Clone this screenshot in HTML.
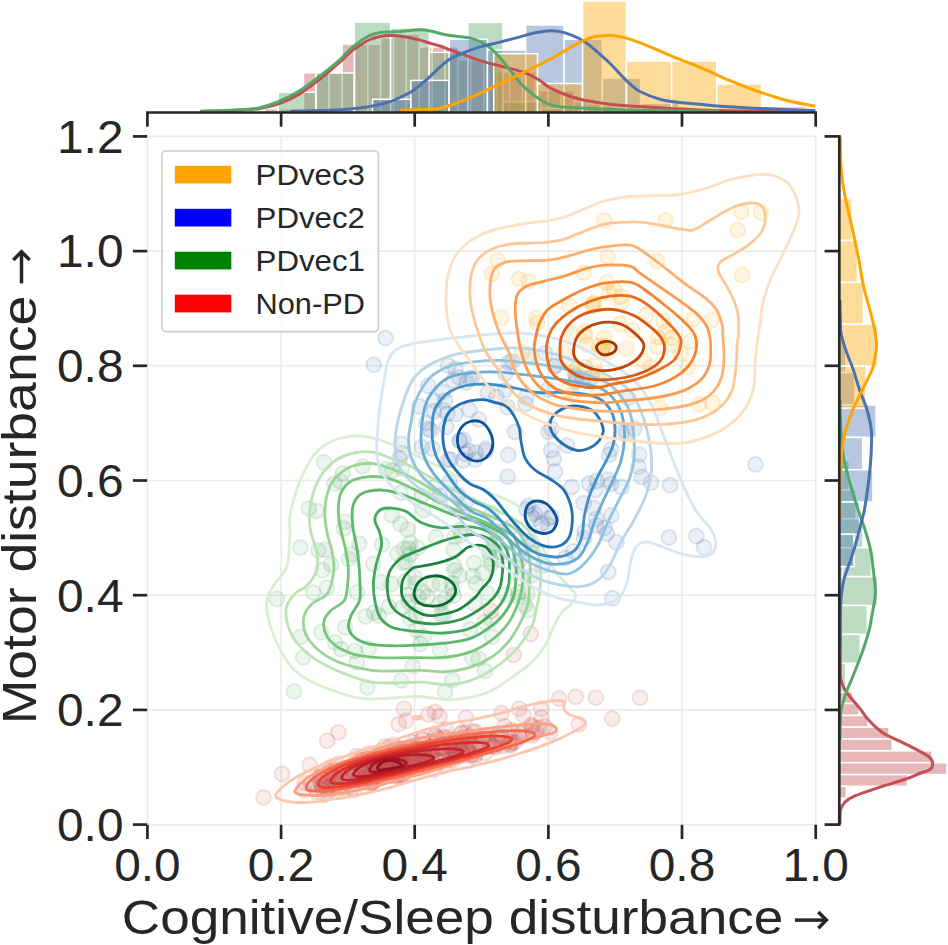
<!DOCTYPE html>
<html><head><meta charset="utf-8"><style>
html,body{margin:0;padding:0;background:#fff;width:948px;height:945px;overflow:hidden}
svg{display:block}
text{font-family:"Liberation Sans",sans-serif;fill:#262626}
.tl{font-size:46.5px}
.al{font-size:48px}
.lg{font-size:30.3px}
</style></head><body>
<svg width="948" height="945" viewBox="0 0 948 945">
<line x1="147.4" y1="136.4" x2="147.4" y2="824.6" stroke="#ebebeb" stroke-width="1.6"/>
<line x1="281.1" y1="136.4" x2="281.1" y2="824.6" stroke="#ebebeb" stroke-width="1.6"/>
<line x1="414.7" y1="136.4" x2="414.7" y2="824.6" stroke="#ebebeb" stroke-width="1.6"/>
<line x1="548.4" y1="136.4" x2="548.4" y2="824.6" stroke="#ebebeb" stroke-width="1.6"/>
<line x1="682.0" y1="136.4" x2="682.0" y2="824.6" stroke="#ebebeb" stroke-width="1.6"/>
<line x1="815.7" y1="136.4" x2="815.7" y2="824.6" stroke="#ebebeb" stroke-width="1.6"/>
<line x1="147.4" y1="824.6" x2="815.7" y2="824.6" stroke="#ebebeb" stroke-width="1.6"/>
<line x1="147.4" y1="709.9" x2="815.7" y2="709.9" stroke="#ebebeb" stroke-width="1.6"/>
<line x1="147.4" y1="595.2" x2="815.7" y2="595.2" stroke="#ebebeb" stroke-width="1.6"/>
<line x1="147.4" y1="480.5" x2="815.7" y2="480.5" stroke="#ebebeb" stroke-width="1.6"/>
<line x1="147.4" y1="365.8" x2="815.7" y2="365.8" stroke="#ebebeb" stroke-width="1.6"/>
<line x1="147.4" y1="251.1" x2="815.7" y2="251.1" stroke="#ebebeb" stroke-width="1.6"/>
<line x1="147.4" y1="136.4" x2="815.7" y2="136.4" stroke="#ebebeb" stroke-width="1.6"/>
<g>
<g fill="#c44e52" fill-opacity="0.11" stroke="#c44e52" stroke-opacity="0.16" stroke-width="2">
<circle cx="466.5" cy="749.6" r="7.5"/>
<circle cx="424.8" cy="756.0" r="7.5"/>
<circle cx="388.8" cy="771.4" r="7.5"/>
<circle cx="388.6" cy="767.7" r="7.5"/>
<circle cx="394.4" cy="758.6" r="7.5"/>
<circle cx="356.6" cy="756.3" r="7.5"/>
<circle cx="389.5" cy="764.9" r="7.5"/>
<circle cx="430.3" cy="747.1" r="7.5"/>
<circle cx="387.0" cy="767.0" r="7.5"/>
<circle cx="363.4" cy="782.1" r="7.5"/>
<circle cx="429.0" cy="750.1" r="7.5"/>
<circle cx="322.0" cy="785.3" r="7.5"/>
<circle cx="382.3" cy="767.8" r="7.5"/>
<circle cx="482.3" cy="738.7" r="7.5"/>
<circle cx="386.1" cy="760.7" r="7.5"/>
<circle cx="395.5" cy="776.2" r="7.5"/>
<circle cx="411.6" cy="766.9" r="7.5"/>
<circle cx="455.6" cy="754.3" r="7.5"/>
<circle cx="381.8" cy="769.5" r="7.5"/>
<circle cx="442.1" cy="749.0" r="7.5"/>
<circle cx="520.1" cy="737.4" r="7.5"/>
<circle cx="438.7" cy="745.5" r="7.5"/>
<circle cx="389.8" cy="756.4" r="7.5"/>
<circle cx="403.6" cy="760.8" r="7.5"/>
<circle cx="368.8" cy="753.3" r="7.5"/>
<circle cx="355.9" cy="773.4" r="7.5"/>
<circle cx="454.4" cy="746.0" r="7.5"/>
<circle cx="414.2" cy="742.6" r="7.5"/>
<circle cx="462.1" cy="738.1" r="7.5"/>
<circle cx="389.9" cy="764.3" r="7.5"/>
<circle cx="370.7" cy="775.9" r="7.5"/>
<circle cx="391.1" cy="765.4" r="7.5"/>
<circle cx="320.6" cy="783.3" r="7.5"/>
<circle cx="374.3" cy="768.7" r="7.5"/>
<circle cx="391.8" cy="775.5" r="7.5"/>
<circle cx="304.9" cy="782.9" r="7.5"/>
<circle cx="407.5" cy="762.8" r="7.5"/>
<circle cx="344.9" cy="783.1" r="7.5"/>
<circle cx="373.1" cy="762.9" r="7.5"/>
<circle cx="405.2" cy="752.3" r="7.5"/>
<circle cx="393.5" cy="760.3" r="7.5"/>
<circle cx="383.6" cy="767.1" r="7.5"/>
<circle cx="471.9" cy="754.8" r="7.5"/>
<circle cx="365.3" cy="778.1" r="7.5"/>
<circle cx="454.6" cy="750.3" r="7.5"/>
<circle cx="389.3" cy="756.2" r="7.5"/>
<circle cx="461.0" cy="750.5" r="7.5"/>
<circle cx="422.3" cy="757.6" r="7.5"/>
<circle cx="504.5" cy="726.2" r="7.5"/>
<circle cx="420.8" cy="764.4" r="7.5"/>
<circle cx="431.4" cy="753.2" r="7.5"/>
<circle cx="447.9" cy="737.7" r="7.5"/>
<circle cx="400.6" cy="765.7" r="7.5"/>
<circle cx="502.5" cy="745.7" r="7.5"/>
<circle cx="392.3" cy="755.9" r="7.5"/>
<circle cx="387.1" cy="760.9" r="7.5"/>
<circle cx="510.8" cy="742.8" r="7.5"/>
<circle cx="434.3" cy="749.3" r="7.5"/>
<circle cx="418.7" cy="761.8" r="7.5"/>
<circle cx="422.2" cy="760.9" r="7.5"/>
<circle cx="451.2" cy="751.5" r="7.5"/>
<circle cx="485.3" cy="752.9" r="7.5"/>
<circle cx="421.5" cy="753.4" r="7.5"/>
<circle cx="466.8" cy="750.9" r="7.5"/>
<circle cx="440.7" cy="761.6" r="7.5"/>
<circle cx="412.3" cy="749.6" r="7.5"/>
<circle cx="373.2" cy="762.7" r="7.5"/>
<circle cx="423.9" cy="751.9" r="7.5"/>
<circle cx="321.9" cy="774.2" r="7.5"/>
<circle cx="397.0" cy="747.8" r="7.5"/>
<circle cx="398.0" cy="774.6" r="7.5"/>
<circle cx="384.9" cy="746.6" r="7.5"/>
<circle cx="395.1" cy="769.1" r="7.5"/>
<circle cx="397.7" cy="764.5" r="7.5"/>
<circle cx="399.5" cy="749.0" r="7.5"/>
<circle cx="433.9" cy="769.7" r="7.5"/>
<circle cx="432.0" cy="750.8" r="7.5"/>
<circle cx="422.5" cy="739.0" r="7.5"/>
<circle cx="402.0" cy="765.2" r="7.5"/>
<circle cx="400.1" cy="763.5" r="7.5"/>
<circle cx="330.4" cy="766.9" r="7.5"/>
<circle cx="493.3" cy="745.8" r="7.5"/>
<circle cx="428.7" cy="751.3" r="7.5"/>
<circle cx="394.1" cy="766.1" r="7.5"/>
<circle cx="514.9" cy="737.2" r="7.5"/>
<circle cx="352.6" cy="777.5" r="7.5"/>
<circle cx="378.6" cy="760.5" r="7.5"/>
<circle cx="401.4" cy="765.4" r="7.5"/>
<circle cx="418.0" cy="754.3" r="7.5"/>
<circle cx="388.2" cy="747.7" r="7.5"/>
<circle cx="538.6" cy="727.8" r="7.5"/>
<circle cx="403.1" cy="749.2" r="7.5"/>
<circle cx="336.0" cy="777.1" r="7.5"/>
<circle cx="303.7" cy="790.0" r="7.5"/>
<circle cx="386.8" cy="760.3" r="7.5"/>
<circle cx="385.8" cy="758.8" r="7.5"/>
<circle cx="410.9" cy="752.9" r="7.5"/>
<circle cx="335.1" cy="786.1" r="7.5"/>
<circle cx="498.0" cy="735.5" r="7.5"/>
<circle cx="431.3" cy="758.8" r="7.5"/>
<circle cx="471.3" cy="745.4" r="7.5"/>
<circle cx="400.6" cy="750.8" r="7.5"/>
<circle cx="372.5" cy="770.3" r="7.5"/>
<circle cx="495.2" cy="747.5" r="7.5"/>
<circle cx="419.2" cy="762.5" r="7.5"/>
<circle cx="455.3" cy="756.8" r="7.5"/>
<circle cx="380.9" cy="762.0" r="7.5"/>
<circle cx="361.6" cy="757.8" r="7.5"/>
<circle cx="432.6" cy="752.7" r="7.5"/>
<circle cx="429.0" cy="752.8" r="7.5"/>
<circle cx="422.7" cy="739.5" r="7.5"/>
<circle cx="437.3" cy="760.6" r="7.5"/>
<circle cx="379.3" cy="777.4" r="7.5"/>
<circle cx="310.9" cy="784.5" r="7.5"/>
<circle cx="511.7" cy="730.0" r="7.5"/>
<circle cx="341.4" cy="781.6" r="7.5"/>
<circle cx="494.4" cy="741.1" r="7.5"/>
<circle cx="390.0" cy="768.6" r="7.5"/>
<circle cx="343.2" cy="778.8" r="7.5"/>
<circle cx="468.9" cy="745.5" r="7.5"/>
<circle cx="475.1" cy="754.6" r="7.5"/>
<circle cx="383.5" cy="759.1" r="7.5"/>
<circle cx="404.6" cy="757.2" r="7.5"/>
<circle cx="387.5" cy="762.1" r="7.5"/>
<circle cx="532.3" cy="726.7" r="7.5"/>
<circle cx="364.5" cy="761.1" r="7.5"/>
<circle cx="360.1" cy="777.8" r="7.5"/>
<circle cx="437.5" cy="738.8" r="7.5"/>
<circle cx="446.3" cy="760.1" r="7.5"/>
<circle cx="437.5" cy="761.1" r="7.5"/>
<circle cx="374.8" cy="770.6" r="7.5"/>
<circle cx="326.1" cy="787.5" r="7.5"/>
<circle cx="342.4" cy="768.5" r="7.5"/>
<circle cx="404.5" cy="753.1" r="7.5"/>
<circle cx="384.6" cy="766.2" r="7.5"/>
<circle cx="407.7" cy="756.3" r="7.5"/>
<circle cx="352.4" cy="771.5" r="7.5"/>
<circle cx="388.9" cy="767.9" r="7.5"/>
<circle cx="331.8" cy="789.1" r="7.5"/>
<circle cx="320.3" cy="776.6" r="7.5"/>
<circle cx="533.3" cy="732.6" r="7.5"/>
<circle cx="455.0" cy="752.2" r="7.5"/>
<circle cx="401.1" cy="775.9" r="7.5"/>
<circle cx="391.2" cy="764.6" r="7.5"/>
<circle cx="398.2" cy="757.2" r="7.5"/>
<circle cx="483.1" cy="735.5" r="7.5"/>
<circle cx="332.0" cy="770.3" r="7.5"/>
<circle cx="531.2" cy="725.1" r="7.5"/>
<circle cx="467.4" cy="739.8" r="7.5"/>
<circle cx="317.5" cy="793.2" r="7.5"/>
<circle cx="372.0" cy="770.7" r="7.5"/>
<circle cx="328.5" cy="776.5" r="7.5"/>
<circle cx="425.3" cy="760.2" r="7.5"/>
<circle cx="472.8" cy="744.7" r="7.5"/>
<circle cx="398.2" cy="763.7" r="7.5"/>
<circle cx="375.7" cy="760.5" r="7.5"/>
<circle cx="450.2" cy="745.3" r="7.5"/>
<circle cx="460.4" cy="745.2" r="7.5"/>
<circle cx="458.8" cy="751.7" r="7.5"/>
<circle cx="370.6" cy="783.0" r="7.5"/>
<circle cx="328.2" cy="790.7" r="7.5"/>
<circle cx="443.8" cy="766.3" r="7.5"/>
<circle cx="373.5" cy="768.9" r="7.5"/>
<circle cx="379.1" cy="769.8" r="7.5"/>
<circle cx="387.8" cy="762.9" r="7.5"/>
<circle cx="510.0" cy="744.6" r="7.5"/>
<circle cx="360.4" cy="777.2" r="7.5"/>
<circle cx="369.2" cy="777.0" r="7.5"/>
<circle cx="350.6" cy="768.9" r="7.5"/>
<circle cx="327.1" cy="782.1" r="7.5"/>
<circle cx="346.1" cy="788.1" r="7.5"/>
<circle cx="379.7" cy="763.2" r="7.5"/>
<circle cx="416.6" cy="769.1" r="7.5"/>
<circle cx="401.8" cy="764.2" r="7.5"/>
<circle cx="462.4" cy="740.7" r="7.5"/>
<circle cx="422.9" cy="754.7" r="7.5"/>
<circle cx="443.7" cy="737.1" r="7.5"/>
<circle cx="398.2" cy="776.5" r="7.5"/>
<circle cx="475.0" cy="731.5" r="7.5"/>
<circle cx="401.3" cy="764.0" r="7.5"/>
<circle cx="510.6" cy="745.2" r="7.5"/>
<circle cx="495.9" cy="742.9" r="7.5"/>
<circle cx="460.3" cy="744.5" r="7.5"/>
<circle cx="358.8" cy="776.2" r="7.5"/>
<circle cx="371.0" cy="763.9" r="7.5"/>
<circle cx="391.8" cy="757.2" r="7.5"/>
<circle cx="323.9" cy="795.3" r="7.5"/>
<circle cx="406.2" cy="763.3" r="7.5"/>
<circle cx="389.2" cy="755.3" r="7.5"/>
<circle cx="474.5" cy="757.5" r="7.5"/>
<circle cx="407.1" cy="767.9" r="7.5"/>
<circle cx="488.3" cy="741.1" r="7.5"/>
<circle cx="421.7" cy="768.3" r="7.5"/>
<circle cx="381.5" cy="777.9" r="7.5"/>
<circle cx="421.5" cy="761.3" r="7.5"/>
<circle cx="384.4" cy="761.9" r="7.5"/>
<circle cx="478.2" cy="742.7" r="7.5"/>
<circle cx="366.1" cy="760.9" r="7.5"/>
<circle cx="341.5" cy="771.0" r="7.5"/>
<circle cx="444.5" cy="759.3" r="7.5"/>
<circle cx="403.5" cy="764.5" r="7.5"/>
<circle cx="518.7" cy="732.4" r="7.5"/>
<circle cx="440.9" cy="748.1" r="7.5"/>
<circle cx="494.8" cy="746.2" r="7.5"/>
<circle cx="354.5" cy="790.0" r="7.5"/>
<circle cx="522.1" cy="732.6" r="7.5"/>
<circle cx="424.8" cy="749.7" r="7.5"/>
<circle cx="536.2" cy="731.9" r="7.5"/>
<circle cx="355.4" cy="767.8" r="7.5"/>
<circle cx="375.6" cy="767.2" r="7.5"/>
<circle cx="402.1" cy="757.8" r="7.5"/>
<circle cx="473.2" cy="732.3" r="7.5"/>
<circle cx="383.9" cy="760.3" r="7.5"/>
<circle cx="480.4" cy="745.2" r="7.5"/>
<circle cx="377.5" cy="760.3" r="7.5"/>
<circle cx="362.8" cy="758.9" r="7.5"/>
<circle cx="444.9" cy="749.0" r="7.5"/>
<circle cx="336.9" cy="774.0" r="7.5"/>
<circle cx="399.9" cy="767.2" r="7.5"/>
<circle cx="411.4" cy="761.3" r="7.5"/>
<circle cx="411.9" cy="759.1" r="7.5"/>
<circle cx="432.7" cy="741.5" r="7.5"/>
<circle cx="392.4" cy="765.2" r="7.5"/>
<circle cx="379.5" cy="763.1" r="7.5"/>
<circle cx="373.7" cy="778.3" r="7.5"/>
<circle cx="351.6" cy="787.9" r="7.5"/>
<circle cx="333.7" cy="772.8" r="7.5"/>
<circle cx="320.3" cy="777.2" r="7.5"/>
<circle cx="372.5" cy="763.4" r="7.5"/>
<circle cx="368.6" cy="759.4" r="7.5"/>
<circle cx="428.8" cy="761.0" r="7.5"/>
<circle cx="397.8" cy="762.8" r="7.5"/>
<circle cx="358.1" cy="773.9" r="7.5"/>
<circle cx="514.3" cy="742.6" r="7.5"/>
<circle cx="391.5" cy="764.0" r="7.5"/>
<circle cx="377.5" cy="779.0" r="7.5"/>
<circle cx="451.3" cy="748.7" r="7.5"/>
<circle cx="448.6" cy="753.9" r="7.5"/>
<circle cx="339.8" cy="775.3" r="7.5"/>
<circle cx="372.7" cy="766.2" r="7.5"/>
<circle cx="330.1" cy="786.5" r="7.5"/>
<circle cx="361.5" cy="766.5" r="7.5"/>
<circle cx="322.5" cy="785.1" r="7.5"/>
<circle cx="379.5" cy="774.0" r="7.5"/>
<circle cx="389.9" cy="767.1" r="7.5"/>
<circle cx="443.3" cy="746.7" r="7.5"/>
<circle cx="418.3" cy="749.3" r="7.5"/>
<circle cx="404.3" cy="775.8" r="7.5"/>
<circle cx="364.3" cy="757.3" r="7.5"/>
<circle cx="394.1" cy="767.4" r="7.5"/>
<circle cx="382.4" cy="761.3" r="7.5"/>
<circle cx="399.7" cy="760.1" r="7.5"/>
<circle cx="544.7" cy="726.3" r="7.5"/>
<circle cx="368.5" cy="772.7" r="7.5"/>
<circle cx="413.9" cy="754.7" r="7.5"/>
<circle cx="379.4" cy="756.5" r="7.5"/>
<circle cx="468.5" cy="736.8" r="7.5"/>
<circle cx="411.2" cy="765.2" r="7.5"/>
<circle cx="370.8" cy="770.4" r="7.5"/>
<circle cx="383.7" cy="763.1" r="7.5"/>
<circle cx="427.2" cy="761.5" r="7.5"/>
<circle cx="362.4" cy="771.9" r="7.5"/>
<circle cx="487.6" cy="739.6" r="7.5"/>
<circle cx="403.5" cy="762.4" r="7.5"/>
<circle cx="391.3" cy="768.5" r="7.5"/>
<circle cx="453.1" cy="757.8" r="7.5"/>
<circle cx="355.1" cy="776.1" r="7.5"/>
<circle cx="397.5" cy="761.9" r="7.5"/>
<circle cx="469.6" cy="741.3" r="7.5"/>
<circle cx="326.2" cy="788.6" r="7.5"/>
<circle cx="396.1" cy="760.8" r="7.5"/>
<circle cx="401.3" cy="769.6" r="7.5"/>
<circle cx="500.8" cy="736.7" r="7.5"/>
<circle cx="330.4" cy="772.1" r="7.5"/>
<circle cx="393.4" cy="744.9" r="7.5"/>
<circle cx="511.2" cy="741.4" r="7.5"/>
<circle cx="412.8" cy="753.7" r="7.5"/>
<circle cx="373.0" cy="761.1" r="7.5"/>
<circle cx="453.6" cy="760.6" r="7.5"/>
<circle cx="379.5" cy="760.5" r="7.5"/>
<circle cx="461.5" cy="733.2" r="7.5"/>
<circle cx="389.9" cy="764.9" r="7.5"/>
<circle cx="385.5" cy="768.1" r="7.5"/>
<circle cx="339.4" cy="789.1" r="7.5"/>
<circle cx="424.5" cy="763.6" r="7.5"/>
<circle cx="320.4" cy="783.0" r="7.5"/>
<circle cx="335.3" cy="784.2" r="7.5"/>
<circle cx="415.1" cy="748.2" r="7.5"/>
<circle cx="435.8" cy="736.4" r="7.5"/>
<circle cx="475.1" cy="745.9" r="7.5"/>
<circle cx="386.9" cy="768.0" r="7.5"/>
<circle cx="468.8" cy="751.2" r="7.5"/>
<circle cx="451.1" cy="741.9" r="7.5"/>
<circle cx="372.2" cy="782.2" r="7.5"/>
<circle cx="394.8" cy="766.9" r="7.5"/>
<circle cx="369.6" cy="784.3" r="7.5"/>
<circle cx="464.0" cy="755.4" r="7.5"/>
<circle cx="450.9" cy="746.1" r="7.5"/>
<circle cx="453.9" cy="742.1" r="7.5"/>
<circle cx="373.0" cy="782.7" r="7.5"/>
<circle cx="455.9" cy="744.8" r="7.5"/>
<circle cx="404.4" cy="771.7" r="7.5"/>
<circle cx="411.0" cy="748.3" r="7.5"/>
<circle cx="402.3" cy="775.2" r="7.5"/>
<circle cx="488.1" cy="734.7" r="7.5"/>
<circle cx="389.4" cy="759.4" r="7.5"/>
<circle cx="415.3" cy="758.3" r="7.5"/>
<circle cx="322.0" cy="789.3" r="7.5"/>
<circle cx="346.8" cy="779.1" r="7.5"/>
<circle cx="390.3" cy="758.3" r="7.5"/>
<circle cx="372.3" cy="761.4" r="7.5"/>
<circle cx="364.4" cy="768.4" r="7.5"/>
<circle cx="357.6" cy="766.7" r="7.5"/>
<circle cx="335.6" cy="779.0" r="7.5"/>
<circle cx="397.2" cy="766.7" r="7.5"/>
<circle cx="386.9" cy="762.8" r="7.5"/>
<circle cx="357.1" cy="779.8" r="7.5"/>
<circle cx="471.2" cy="755.2" r="7.5"/>
<circle cx="457.3" cy="756.0" r="7.5"/>
<circle cx="414.5" cy="756.8" r="7.5"/>
<circle cx="356.0" cy="763.5" r="7.5"/>
<circle cx="461.8" cy="733.1" r="7.5"/>
<circle cx="395.7" cy="760.9" r="7.5"/>
<circle cx="425.8" cy="756.0" r="7.5"/>
<circle cx="413.3" cy="751.0" r="7.5"/>
<circle cx="263.5" cy="797.4" r="7.5"/>
<circle cx="282.1" cy="773.9" r="7.5"/>
<circle cx="309.6" cy="765.1" r="7.5"/>
<circle cx="327.3" cy="740.7" r="7.5"/>
<circle cx="338.4" cy="732.3" r="7.5"/>
<circle cx="403.9" cy="708.8" r="7.5"/>
<circle cx="398.6" cy="724.3" r="7.5"/>
<circle cx="406.1" cy="720.8" r="7.5"/>
<circle cx="428.3" cy="714.6" r="7.5"/>
<circle cx="435.0" cy="711.9" r="7.5"/>
<circle cx="439.4" cy="716.3" r="7.5"/>
<circle cx="466.0" cy="717.7" r="7.5"/>
<circle cx="435.0" cy="735.4" r="7.5"/>
<circle cx="446.0" cy="729.6" r="7.5"/>
<circle cx="466.0" cy="733.2" r="7.5"/>
<circle cx="501.4" cy="713.2" r="7.5"/>
<circle cx="519.1" cy="708.8" r="7.5"/>
<circle cx="523.6" cy="715.4" r="7.5"/>
<circle cx="541.3" cy="708.8" r="7.5"/>
<circle cx="541.3" cy="717.7" r="7.5"/>
<circle cx="559.0" cy="698.6" r="7.5"/>
<circle cx="575.8" cy="696.8" r="7.5"/>
<circle cx="595.8" cy="697.7" r="7.5"/>
<circle cx="640.1" cy="697.7" r="7.5"/>
<circle cx="612.2" cy="718.5" r="7.5"/>
<circle cx="578.9" cy="724.3" r="7.5"/>
<circle cx="550.1" cy="732.3" r="7.5"/>
<circle cx="532.4" cy="735.4" r="7.5"/>
<circle cx="497.0" cy="737.6" r="7.5"/>
<circle cx="381.8" cy="750.9" r="7.5"/>
<circle cx="399.5" cy="750.9" r="7.5"/>
<circle cx="337.5" cy="764.2" r="7.5"/>
<circle cx="530.7" cy="633.9" r="7.5"/>
<circle cx="513.8" cy="655.0" r="7.5"/>
<circle cx="491.0" cy="611.1" r="7.5"/>
</g>
<g fill="#55a868" fill-opacity="0.11" stroke="#55a868" stroke-opacity="0.16" stroke-width="2">
<circle cx="524.9" cy="604.9" r="7.5"/>
<circle cx="478.6" cy="658.8" r="7.5"/>
<circle cx="520.8" cy="578.2" r="7.5"/>
<circle cx="439.8" cy="603.6" r="7.5"/>
<circle cx="435.2" cy="486.5" r="7.5"/>
<circle cx="313.1" cy="592.7" r="7.5"/>
<circle cx="410.4" cy="554.6" r="7.5"/>
<circle cx="441.2" cy="614.6" r="7.5"/>
<circle cx="397.3" cy="553.7" r="7.5"/>
<circle cx="527.5" cy="593.8" r="7.5"/>
<circle cx="475.8" cy="583.5" r="7.5"/>
<circle cx="401.0" cy="680.4" r="7.5"/>
<circle cx="492.1" cy="636.8" r="7.5"/>
<circle cx="440.2" cy="502.2" r="7.5"/>
<circle cx="368.6" cy="648.7" r="7.5"/>
<circle cx="444.0" cy="614.3" r="7.5"/>
<circle cx="423.2" cy="510.1" r="7.5"/>
<circle cx="527.7" cy="610.2" r="7.5"/>
<circle cx="354.8" cy="651.0" r="7.5"/>
<circle cx="533.6" cy="553.0" r="7.5"/>
<circle cx="452.6" cy="589.6" r="7.5"/>
<circle cx="400.4" cy="523.9" r="7.5"/>
<circle cx="491.3" cy="564.0" r="7.5"/>
<circle cx="439.9" cy="583.7" r="7.5"/>
<circle cx="530.4" cy="576.0" r="7.5"/>
<circle cx="500.8" cy="532.0" r="7.5"/>
<circle cx="485.0" cy="670.8" r="7.5"/>
<circle cx="342.7" cy="473.5" r="7.5"/>
<circle cx="407.5" cy="529.6" r="7.5"/>
<circle cx="501.5" cy="552.3" r="7.5"/>
<circle cx="382.1" cy="544.6" r="7.5"/>
<circle cx="400.7" cy="492.8" r="7.5"/>
<circle cx="455.1" cy="570.5" r="7.5"/>
<circle cx="410.0" cy="542.8" r="7.5"/>
<circle cx="490.4" cy="558.8" r="7.5"/>
<circle cx="316.9" cy="511.1" r="7.5"/>
<circle cx="300.4" cy="636.9" r="7.5"/>
<circle cx="409.9" cy="618.3" r="7.5"/>
<circle cx="401.6" cy="468.5" r="7.5"/>
<circle cx="340.7" cy="481.8" r="7.5"/>
<circle cx="408.9" cy="601.9" r="7.5"/>
<circle cx="404.0" cy="549.1" r="7.5"/>
<circle cx="474.1" cy="563.0" r="7.5"/>
<circle cx="381.5" cy="582.3" r="7.5"/>
<circle cx="472.4" cy="657.7" r="7.5"/>
<circle cx="491.5" cy="513.1" r="7.5"/>
<circle cx="331.2" cy="564.4" r="7.5"/>
<circle cx="379.0" cy="615.8" r="7.5"/>
<circle cx="422.9" cy="592.1" r="7.5"/>
<circle cx="453.9" cy="565.6" r="7.5"/>
<circle cx="432.1" cy="584.8" r="7.5"/>
<circle cx="334.3" cy="483.8" r="7.5"/>
<circle cx="373.3" cy="563.9" r="7.5"/>
<circle cx="474.9" cy="604.0" r="7.5"/>
<circle cx="392.2" cy="470.5" r="7.5"/>
<circle cx="415.6" cy="583.2" r="7.5"/>
<circle cx="343.8" cy="528.7" r="7.5"/>
<circle cx="496.0" cy="530.9" r="7.5"/>
<circle cx="352.3" cy="554.3" r="7.5"/>
<circle cx="490.4" cy="536.4" r="7.5"/>
<circle cx="462.8" cy="511.1" r="7.5"/>
<circle cx="453.7" cy="550.1" r="7.5"/>
<circle cx="416.1" cy="614.7" r="7.5"/>
<circle cx="356.8" cy="592.2" r="7.5"/>
<circle cx="365.5" cy="616.5" r="7.5"/>
<circle cx="470.0" cy="629.3" r="7.5"/>
<circle cx="402.1" cy="607.8" r="7.5"/>
<circle cx="460.9" cy="535.6" r="7.5"/>
<circle cx="515.4" cy="566.6" r="7.5"/>
<circle cx="489.0" cy="552.1" r="7.5"/>
<circle cx="374.1" cy="612.7" r="7.5"/>
<circle cx="453.8" cy="595.5" r="7.5"/>
<circle cx="427.5" cy="596.8" r="7.5"/>
<circle cx="423.9" cy="637.1" r="7.5"/>
<circle cx="359.2" cy="543.8" r="7.5"/>
<circle cx="408.5" cy="548.4" r="7.5"/>
<circle cx="445.1" cy="599.1" r="7.5"/>
<circle cx="321.3" cy="632.2" r="7.5"/>
<circle cx="362.6" cy="466.5" r="7.5"/>
<circle cx="341.0" cy="649.2" r="7.5"/>
<circle cx="324.9" cy="549.8" r="7.5"/>
<circle cx="348.8" cy="559.1" r="7.5"/>
<circle cx="518.2" cy="597.0" r="7.5"/>
<circle cx="439.9" cy="649.8" r="7.5"/>
<circle cx="422.0" cy="496.0" r="7.5"/>
<circle cx="405.1" cy="581.6" r="7.5"/>
<circle cx="484.5" cy="622.1" r="7.5"/>
<circle cx="451.8" cy="583.0" r="7.5"/>
<circle cx="518.5" cy="592.5" r="7.5"/>
<circle cx="388.8" cy="606.4" r="7.5"/>
<circle cx="418.5" cy="597.2" r="7.5"/>
<circle cx="385.8" cy="469.3" r="7.5"/>
<circle cx="335.1" cy="642.3" r="7.5"/>
<circle cx="494.0" cy="543.7" r="7.5"/>
<circle cx="459.7" cy="575.7" r="7.5"/>
<circle cx="416.3" cy="630.1" r="7.5"/>
<circle cx="403.0" cy="562.9" r="7.5"/>
<circle cx="415.0" cy="577.4" r="7.5"/>
<circle cx="407.7" cy="595.0" r="7.5"/>
<circle cx="405.6" cy="562.0" r="7.5"/>
<circle cx="318.4" cy="550.5" r="7.5"/>
<circle cx="326.8" cy="587.7" r="7.5"/>
<circle cx="460.3" cy="529.7" r="7.5"/>
<circle cx="322.3" cy="570.3" r="7.5"/>
<circle cx="454.7" cy="537.0" r="7.5"/>
<circle cx="391.7" cy="515.2" r="7.5"/>
<circle cx="412.6" cy="666.3" r="7.5"/>
<circle cx="345.1" cy="627.5" r="7.5"/>
<circle cx="356.9" cy="662.5" r="7.5"/>
<circle cx="482.6" cy="572.9" r="7.5"/>
<circle cx="417.7" cy="547.8" r="7.5"/>
<circle cx="420.2" cy="644.1" r="7.5"/>
<circle cx="496.6" cy="544.0" r="7.5"/>
<circle cx="473.0" cy="575.9" r="7.5"/>
<circle cx="505.5" cy="594.6" r="7.5"/>
<circle cx="436.0" cy="537.3" r="7.5"/>
<circle cx="391.5" cy="583.7" r="7.5"/>
<circle cx="491.7" cy="619.5" r="7.5"/>
<circle cx="487.1" cy="592.8" r="7.5"/>
<circle cx="498.7" cy="559.6" r="7.5"/>
<circle cx="345.2" cy="521.8" r="7.5"/>
<circle cx="294.0" cy="691.5" r="7.5"/>
<circle cx="367.3" cy="687.5" r="7.5"/>
<circle cx="324.1" cy="462.2" r="7.5"/>
<circle cx="308.9" cy="508.4" r="7.5"/>
<circle cx="300.5" cy="547.6" r="7.5"/>
<circle cx="276.9" cy="598.9" r="7.5"/>
<circle cx="303.2" cy="657.3" r="7.5"/>
<circle cx="452.4" cy="679.9" r="7.5"/>
<circle cx="445.0" cy="691.7" r="7.5"/>
</g>
<g fill="#4c72b0" fill-opacity="0.11" stroke="#4c72b0" stroke-opacity="0.16" stroke-width="2">
<circle cx="526.2" cy="509.3" r="7.5"/>
<circle cx="433.9" cy="411.5" r="7.5"/>
<circle cx="428.1" cy="385.8" r="7.5"/>
<circle cx="528.7" cy="354.9" r="7.5"/>
<circle cx="575.4" cy="375.2" r="7.5"/>
<circle cx="621.7" cy="432.4" r="7.5"/>
<circle cx="616.5" cy="542.3" r="7.5"/>
<circle cx="428.5" cy="429.0" r="7.5"/>
<circle cx="448.2" cy="365.8" r="7.5"/>
<circle cx="541.6" cy="523.5" r="7.5"/>
<circle cx="421.9" cy="447.1" r="7.5"/>
<circle cx="399.4" cy="458.6" r="7.5"/>
<circle cx="449.8" cy="481.7" r="7.5"/>
<circle cx="453.3" cy="380.4" r="7.5"/>
<circle cx="639.2" cy="454.7" r="7.5"/>
<circle cx="426.4" cy="423.0" r="7.5"/>
<circle cx="447.3" cy="413.8" r="7.5"/>
<circle cx="508.8" cy="362.4" r="7.5"/>
<circle cx="468.6" cy="451.1" r="7.5"/>
<circle cx="455.3" cy="368.7" r="7.5"/>
<circle cx="591.7" cy="376.8" r="7.5"/>
<circle cx="555.1" cy="471.6" r="7.5"/>
<circle cx="641.8" cy="476.9" r="7.5"/>
<circle cx="596.1" cy="525.5" r="7.5"/>
<circle cx="528.3" cy="541.2" r="7.5"/>
<circle cx="401.8" cy="453.2" r="7.5"/>
<circle cx="533.7" cy="518.8" r="7.5"/>
<circle cx="526.2" cy="396.9" r="7.5"/>
<circle cx="553.7" cy="458.5" r="7.5"/>
<circle cx="531.9" cy="544.3" r="7.5"/>
<circle cx="505.4" cy="373.6" r="7.5"/>
<circle cx="534.5" cy="513.5" r="7.5"/>
<circle cx="487.8" cy="392.7" r="7.5"/>
<circle cx="554.5" cy="366.6" r="7.5"/>
<circle cx="475.0" cy="459.8" r="7.5"/>
<circle cx="604.7" cy="527.9" r="7.5"/>
<circle cx="551.6" cy="429.1" r="7.5"/>
<circle cx="469.4" cy="409.9" r="7.5"/>
<circle cx="446.3" cy="427.0" r="7.5"/>
<circle cx="442.6" cy="409.9" r="7.5"/>
<circle cx="609.0" cy="454.7" r="7.5"/>
<circle cx="576.2" cy="381.8" r="7.5"/>
<circle cx="496.3" cy="397.0" r="7.5"/>
<circle cx="539.6" cy="511.3" r="7.5"/>
<circle cx="507.7" cy="407.2" r="7.5"/>
<circle cx="621.5" cy="487.2" r="7.5"/>
<circle cx="566.9" cy="445.6" r="7.5"/>
<circle cx="466.6" cy="382.4" r="7.5"/>
<circle cx="626.2" cy="432.2" r="7.5"/>
<circle cx="419.4" cy="406.5" r="7.5"/>
<circle cx="593.8" cy="508.3" r="7.5"/>
<circle cx="607.0" cy="533.6" r="7.5"/>
<circle cx="595.4" cy="490.0" r="7.5"/>
<circle cx="465.5" cy="453.9" r="7.5"/>
<circle cx="542.5" cy="565.7" r="7.5"/>
<circle cx="445.1" cy="400.5" r="7.5"/>
<circle cx="472.0" cy="377.8" r="7.5"/>
<circle cx="525.6" cy="404.0" r="7.5"/>
<circle cx="485.3" cy="450.9" r="7.5"/>
<circle cx="528.5" cy="505.7" r="7.5"/>
<circle cx="576.3" cy="378.2" r="7.5"/>
<circle cx="573.2" cy="551.3" r="7.5"/>
<circle cx="475.6" cy="452.6" r="7.5"/>
<circle cx="611.3" cy="515.5" r="7.5"/>
<circle cx="439.9" cy="496.0" r="7.5"/>
<circle cx="469.5" cy="378.6" r="7.5"/>
<circle cx="548.9" cy="518.5" r="7.5"/>
<circle cx="430.8" cy="430.3" r="7.5"/>
<circle cx="463.4" cy="460.3" r="7.5"/>
<circle cx="507.6" cy="476.8" r="7.5"/>
<circle cx="514.9" cy="431.9" r="7.5"/>
<circle cx="455.4" cy="414.1" r="7.5"/>
<circle cx="459.7" cy="441.2" r="7.5"/>
<circle cx="465.6" cy="503.0" r="7.5"/>
<circle cx="589.1" cy="483.5" r="7.5"/>
<circle cx="551.2" cy="450.3" r="7.5"/>
<circle cx="551.6" cy="516.7" r="7.5"/>
<circle cx="434.4" cy="401.1" r="7.5"/>
<circle cx="584.6" cy="531.6" r="7.5"/>
<circle cx="463.6" cy="439.9" r="7.5"/>
<circle cx="512.2" cy="361.4" r="7.5"/>
<circle cx="450.6" cy="459.8" r="7.5"/>
<circle cx="486.1" cy="448.7" r="7.5"/>
<circle cx="478.8" cy="419.4" r="7.5"/>
<circle cx="448.3" cy="459.5" r="7.5"/>
<circle cx="458.2" cy="495.1" r="7.5"/>
<circle cx="521.7" cy="549.2" r="7.5"/>
<circle cx="555.3" cy="365.5" r="7.5"/>
<circle cx="638.6" cy="466.8" r="7.5"/>
<circle cx="519.2" cy="560.7" r="7.5"/>
<circle cx="548.6" cy="432.0" r="7.5"/>
<circle cx="584.0" cy="538.6" r="7.5"/>
<circle cx="634.3" cy="428.8" r="7.5"/>
<circle cx="583.8" cy="503.3" r="7.5"/>
<circle cx="459.9" cy="440.2" r="7.5"/>
<circle cx="608.0" cy="479.7" r="7.5"/>
<circle cx="571.8" cy="486.9" r="7.5"/>
<circle cx="548.2" cy="389.4" r="7.5"/>
<circle cx="628.2" cy="398.0" r="7.5"/>
<circle cx="508.3" cy="455.0" r="7.5"/>
<circle cx="442.9" cy="392.3" r="7.5"/>
<circle cx="596.3" cy="518.9" r="7.5"/>
<circle cx="596.7" cy="481.1" r="7.5"/>
<circle cx="459.1" cy="377.5" r="7.5"/>
<circle cx="511.2" cy="526.9" r="7.5"/>
<circle cx="531.1" cy="515.4" r="7.5"/>
<circle cx="548.5" cy="525.5" r="7.5"/>
<circle cx="545.4" cy="353.3" r="7.5"/>
<circle cx="582.5" cy="378.6" r="7.5"/>
<circle cx="505.3" cy="390.1" r="7.5"/>
<circle cx="755.4" cy="464.5" r="7.5"/>
<circle cx="651.0" cy="482.6" r="7.5"/>
<circle cx="670.2" cy="485.3" r="7.5"/>
<circle cx="668.9" cy="537.6" r="7.5"/>
<circle cx="696.4" cy="536.3" r="7.5"/>
<circle cx="704.1" cy="547.3" r="7.5"/>
<circle cx="608.3" cy="572.0" r="7.5"/>
<circle cx="612.4" cy="598.2" r="7.5"/>
<circle cx="611.0" cy="449.5" r="7.5"/>
<circle cx="611.0" cy="483.9" r="7.5"/>
<circle cx="565.2" cy="558.1" r="7.5"/>
<circle cx="385.5" cy="338.1" r="7.5"/>
<circle cx="373.7" cy="364.8" r="7.5"/>
<circle cx="401.1" cy="444.0" r="7.5"/>
<circle cx="432.2" cy="448.4" r="7.5"/>
</g>
<g fill="#ffa500" fill-opacity="0.11" stroke="#ffa500" stroke-opacity="0.16" stroke-width="2">
<circle cx="632.3" cy="330.2" r="7.5"/>
<circle cx="604.3" cy="337.8" r="7.5"/>
<circle cx="569.4" cy="305.6" r="7.5"/>
<circle cx="601.5" cy="350.7" r="7.5"/>
<circle cx="572.8" cy="394.7" r="7.5"/>
<circle cx="597.0" cy="380.2" r="7.5"/>
<circle cx="609.0" cy="292.9" r="7.5"/>
<circle cx="603.1" cy="347.8" r="7.5"/>
<circle cx="569.9" cy="332.8" r="7.5"/>
<circle cx="598.2" cy="393.9" r="7.5"/>
<circle cx="608.3" cy="351.8" r="7.5"/>
<circle cx="594.2" cy="364.9" r="7.5"/>
<circle cx="606.6" cy="282.5" r="7.5"/>
<circle cx="657.0" cy="347.0" r="7.5"/>
<circle cx="693.6" cy="319.1" r="7.5"/>
<circle cx="657.9" cy="337.3" r="7.5"/>
<circle cx="599.1" cy="345.7" r="7.5"/>
<circle cx="563.9" cy="352.4" r="7.5"/>
<circle cx="671.9" cy="337.8" r="7.5"/>
<circle cx="651.2" cy="367.1" r="7.5"/>
<circle cx="584.9" cy="335.5" r="7.5"/>
<circle cx="663.2" cy="321.1" r="7.5"/>
<circle cx="603.8" cy="345.8" r="7.5"/>
<circle cx="598.0" cy="374.8" r="7.5"/>
<circle cx="567.4" cy="390.2" r="7.5"/>
<circle cx="594.0" cy="303.0" r="7.5"/>
<circle cx="497.5" cy="260.3" r="7.5"/>
<circle cx="491.8" cy="274.0" r="7.5"/>
<circle cx="519.0" cy="279.0" r="7.5"/>
<circle cx="528.8" cy="281.2" r="7.5"/>
<circle cx="501.0" cy="317.7" r="7.5"/>
<circle cx="536.2" cy="317.7" r="7.5"/>
<circle cx="537.2" cy="323.0" r="7.5"/>
<circle cx="604.4" cy="220.7" r="7.5"/>
<circle cx="665.5" cy="220.5" r="7.5"/>
<circle cx="741.5" cy="211.8" r="7.5"/>
<circle cx="760.8" cy="212.5" r="7.5"/>
<circle cx="737.7" cy="230.0" r="7.5"/>
<circle cx="607.5" cy="256.6" r="7.5"/>
<circle cx="583.5" cy="272.8" r="7.5"/>
<circle cx="614.2" cy="289.6" r="7.5"/>
<circle cx="621.2" cy="296.8" r="7.5"/>
<circle cx="592.4" cy="304.0" r="7.5"/>
<circle cx="584.6" cy="331.7" r="7.5"/>
<circle cx="620.0" cy="324.0" r="7.5"/>
<circle cx="587.2" cy="345.0" r="7.5"/>
<circle cx="626.4" cy="348.8" r="7.5"/>
<circle cx="522.5" cy="352.5" r="7.5"/>
<circle cx="657.0" cy="261.0" r="7.5"/>
<circle cx="742.0" cy="275.0" r="7.5"/>
<circle cx="711.5" cy="320.5" r="7.5"/>
<circle cx="646.1" cy="315.3" r="7.5"/>
<circle cx="666.0" cy="331.5" r="7.5"/>
<circle cx="643.5" cy="361.0" r="7.5"/>
<circle cx="672.2" cy="345.0" r="7.5"/>
<circle cx="680.8" cy="353.2" r="7.5"/>
<circle cx="690.5" cy="341.5" r="7.5"/>
<circle cx="687.5" cy="367.6" r="7.5"/>
<circle cx="660.0" cy="408.0" r="7.5"/>
<circle cx="699.0" cy="404.2" r="7.5"/>
<circle cx="712.5" cy="403.0" r="7.5"/>
<circle cx="593.3" cy="306.3" r="7.5"/>
<circle cx="621.8" cy="302.4" r="7.5"/>
<circle cx="576.0" cy="369.5" r="7.5"/>
<circle cx="585.4" cy="367.2" r="7.5"/>
<circle cx="572.0" cy="367.2" r="7.5"/>
</g>
</g>
<g fill="none" stroke-width="2.8" stroke-linejoin="round">
<path d="M275.7 796.0 C275.1 794.4 277.4 792.4 279.0 790.5 C280.6 788.6 282.3 786.9 285.0 784.8 C287.7 782.7 291.8 779.9 295.0 777.9 C298.2 775.9 301.3 774.4 304.5 772.8 C307.7 771.2 310.6 769.9 314.0 768.3 C317.4 766.7 320.0 765.3 325.0 763.4 C330.0 761.5 337.7 758.8 344.0 756.6 C350.3 754.4 357.0 752.2 363.0 750.3 C369.0 748.4 373.7 747.2 380.0 745.1 C386.3 743.0 395.2 739.7 401.0 737.7 C406.8 735.7 409.5 734.7 414.8 733.0 C420.1 731.3 426.2 729.4 432.7 727.7 C439.2 726.0 447.6 723.9 453.8 722.6 C460.0 721.3 462.7 721.4 470.0 720.0 C477.3 718.6 488.2 716.5 497.4 714.2 C506.5 711.9 516.9 708.0 524.9 706.0 C532.9 704.0 539.7 702.8 545.4 701.9 C551.1 701.0 555.9 700.4 559.1 700.5 C562.3 700.6 563.8 701.1 564.6 702.5 C565.4 703.9 563.2 706.8 563.9 708.7 C564.6 710.7 566.1 712.6 568.7 714.2 C571.3 715.8 577.0 716.9 579.7 718.3 C582.5 719.7 584.7 721.0 585.2 722.4 C585.7 723.8 584.5 724.9 582.5 726.5 C580.5 728.1 576.8 729.9 572.9 732.0 C569.0 734.1 564.8 736.4 559.1 738.9 C553.4 741.4 545.5 744.6 538.6 747.1 C531.8 749.6 524.9 751.8 518.0 754.0 C511.1 756.2 503.7 758.4 497.4 760.1 C491.1 761.9 484.6 763.4 480.0 764.5 C475.4 765.6 476.1 765.7 470.0 767.0 C463.9 768.3 453.0 770.1 443.3 772.5 C433.6 774.9 420.5 778.6 411.6 781.1 C402.7 783.6 396.7 785.6 390.0 787.5 C383.3 789.4 376.5 791.0 371.3 792.2 C366.1 793.4 362.8 793.9 358.6 794.7 C354.4 795.6 350.1 796.5 345.9 797.3 C341.7 798.0 337.5 798.6 333.3 799.2 C329.1 799.8 324.8 800.6 320.6 801.1 C316.4 801.6 312.2 802.1 308.0 802.3 C303.8 802.5 299.5 802.6 295.3 802.3 C291.1 802.0 286.0 801.4 282.7 800.4 C279.4 799.4 276.3 797.6 275.7 796.0Z" stroke="#fcc5ad"/>
<path d="M413.0 717.8 C412.8 717.3 415.5 716.3 417.0 716.2 C418.5 716.1 421.8 716.5 422.0 717.0 C422.2 717.5 419.5 719.1 418.0 719.2 C416.5 719.3 413.2 718.3 413.0 717.8Z" stroke="#fcc5ad"/>
<path d="M294.7 791.6 C294.7 790.6 296.0 788.9 297.0 787.5 C298.0 786.1 298.7 785.2 300.5 783.5 C302.3 781.8 305.2 779.1 308.0 777.2 C310.8 775.3 314.4 773.7 317.2 772.3 C320.0 770.9 320.5 770.5 325.0 768.7 C329.5 766.9 338.0 763.7 344.0 761.5 C350.0 759.3 355.0 757.7 361.0 755.5 C367.0 753.3 371.6 750.8 380.0 748.2 C388.4 745.6 401.1 742.1 411.6 739.8 C422.2 737.5 433.6 735.9 443.3 734.5 C453.0 733.1 461.0 732.5 470.0 731.3 C479.0 730.1 488.2 728.3 497.4 727.2 C506.5 726.1 516.9 725.1 524.9 724.5 C532.9 723.9 540.7 723.6 545.4 723.8 C550.1 724.0 551.1 724.5 553.0 725.5 C554.9 726.5 556.6 728.2 556.6 729.5 C556.6 730.8 554.9 732.1 553.0 733.0 C551.1 733.9 550.1 733.6 545.4 734.8 C540.7 736.0 532.9 737.8 524.9 740.3 C516.9 742.8 506.5 746.4 497.4 749.5 C488.2 752.6 479.0 756.0 470.0 759.0 C461.0 762.0 453.0 764.6 443.3 767.5 C433.6 770.4 422.2 773.6 411.6 776.5 C401.1 779.4 387.8 783.0 380.0 785.0 C372.2 787.0 369.5 787.5 364.9 788.5 C360.3 789.5 356.5 790.4 352.3 791.2 C348.1 792.0 343.8 792.9 339.6 793.5 C335.4 794.1 331.2 794.7 327.0 795.0 C322.8 795.3 318.5 795.5 314.3 795.5 C310.1 795.5 304.5 795.0 301.6 794.7 C298.7 794.4 298.1 794.0 297.0 793.5 C295.9 793.0 294.7 792.6 294.7 791.6Z" stroke="#fca082"/>
<path d="M306.4 788.4 C306.3 788.0 306.3 787.3 306.4 786.7 C306.5 786.1 306.7 785.4 307.0 784.8 C307.4 784.1 307.8 783.4 308.4 782.7 C309.0 782.0 309.7 781.3 310.5 780.6 C311.3 779.8 312.2 779.1 313.2 778.3 C314.2 777.5 315.4 776.7 316.6 775.9 C317.9 775.1 319.2 774.3 320.7 773.4 C322.1 772.6 323.7 771.8 325.3 770.9 C327.0 770.1 328.7 769.2 330.6 768.4 C332.4 767.5 334.4 766.7 336.4 765.8 C338.5 765.0 340.6 764.1 342.8 763.3 C345.0 762.4 347.3 761.6 349.6 760.8 C352.0 759.9 354.4 759.1 356.9 758.3 C359.4 757.5 362.0 756.7 364.6 756.0 C367.3 755.2 370.0 754.5 372.7 753.7 C375.5 753.0 378.3 752.3 381.1 751.7 C383.9 751.0 386.8 750.3 389.7 749.6 C392.6 748.9 395.6 748.3 398.6 747.6 C401.5 746.9 404.5 746.3 407.5 745.6 C410.5 745.0 413.5 744.4 416.5 743.8 C419.5 743.1 422.5 742.5 425.6 742.0 C428.6 741.4 431.6 740.8 434.6 740.3 C437.5 739.7 440.5 739.2 443.5 738.7 C446.4 738.2 449.4 737.7 452.2 737.2 C455.1 736.7 458.0 736.3 460.8 735.9 C463.6 735.5 466.4 735.1 469.1 734.7 C471.9 734.3 474.5 734.0 477.1 733.6 C479.8 733.3 482.3 733.0 484.8 732.7 C487.3 732.5 489.7 732.2 492.1 732.0 C494.4 731.8 496.7 731.6 498.9 731.4 C501.1 731.3 503.2 731.1 505.2 731.0 C507.2 730.9 509.2 730.8 511.0 730.8 C512.9 730.7 514.6 730.7 516.3 730.7 C517.9 730.7 519.5 730.7 520.9 730.8 C522.4 730.8 523.7 730.9 524.9 731.0 C526.2 731.2 527.3 731.3 528.3 731.5 C529.3 731.6 530.2 731.8 531.0 732.1 C531.8 732.3 532.5 732.5 533.0 732.8 C533.6 733.1 534.1 733.4 534.4 733.7 C534.7 734.1 534.9 734.5 535.0 734.8 C535.1 735.1 535.0 735.3 534.8 735.6 C534.6 735.9 534.3 736.2 533.9 736.5 C533.5 736.9 533.0 737.2 532.3 737.6 C531.7 738.0 530.9 738.4 530.0 738.8 C529.2 739.3 528.2 739.7 527.1 740.2 C526.0 740.7 524.8 741.1 523.5 741.7 C522.2 742.2 520.7 742.7 519.2 743.2 C517.7 743.8 516.1 744.4 514.3 744.9 C512.6 745.5 510.8 746.1 508.9 746.7 C507.0 747.3 505.0 748.0 502.9 748.6 C500.8 749.2 498.7 749.9 496.4 750.6 C494.2 751.2 491.9 751.9 489.5 752.6 C487.1 753.3 484.6 754.0 482.1 754.7 C479.6 755.4 477.0 756.1 474.3 756.9 C471.7 757.6 469.0 758.3 466.2 759.1 C463.5 759.8 460.7 760.5 457.9 761.3 C455.1 762.0 452.2 762.8 449.3 763.5 C446.4 764.3 443.5 765.1 440.6 765.8 C437.6 766.6 434.7 767.3 431.7 768.1 C428.7 768.9 425.7 769.6 422.8 770.4 C419.8 771.1 416.8 771.9 413.8 772.6 C410.9 773.4 407.9 774.1 404.9 774.9 C402.0 775.6 399.1 776.3 396.2 777.0 C393.3 777.8 390.4 778.5 387.6 779.2 C384.7 779.9 381.9 780.6 379.2 781.2 C376.4 781.9 373.7 782.5 371.0 783.1 C368.3 783.7 365.7 784.3 363.1 784.8 C360.6 785.3 358.1 785.8 355.6 786.3 C353.2 786.8 350.8 787.2 348.5 787.6 C346.2 788.0 343.9 788.4 341.8 788.7 C339.6 789.0 337.6 789.3 335.6 789.6 C333.6 789.9 331.7 790.1 329.9 790.3 C328.1 790.5 326.3 790.7 324.7 790.8 C323.1 790.9 321.6 791.0 320.2 791.1 C318.7 791.1 317.4 791.1 316.2 791.1 C315.0 791.1 313.9 791.1 312.9 791.0 C311.9 790.9 311.0 790.8 310.3 790.6 C309.5 790.5 308.8 790.3 308.3 790.1 C307.7 789.9 307.3 789.6 307.0 789.3 C306.7 789.1 306.5 788.8 306.4 788.4Z" stroke="#f7694a"/>
<path d="M318.2 785.0 C318.1 784.6 318.1 784.0 318.2 783.5 C318.2 783.0 318.4 782.4 318.7 781.9 C319.0 781.3 319.4 780.7 319.9 780.1 C320.4 779.5 320.9 778.9 321.6 778.2 C322.3 777.6 323.1 776.9 323.9 776.3 C324.8 775.6 325.7 774.9 326.8 774.2 C327.8 773.5 329.0 772.8 330.2 772.1 C331.4 771.4 332.8 770.7 334.2 769.9 C335.6 769.2 337.1 768.5 338.6 767.8 C340.2 767.0 341.8 766.3 343.6 765.6 C345.3 764.9 347.1 764.1 348.9 763.4 C350.8 762.7 352.7 762.0 354.7 761.3 C356.7 760.6 358.8 759.9 360.9 759.3 C363.0 758.6 365.2 758.0 367.5 757.3 C369.7 756.7 372.0 756.1 374.3 755.5 C376.7 754.9 379.0 754.3 381.4 753.8 C383.8 753.2 386.3 752.6 388.8 752.0 C391.2 751.5 393.7 750.9 396.2 750.3 C398.7 749.8 401.3 749.2 403.8 748.7 C406.3 748.1 408.9 747.6 411.4 747.1 C414.0 746.6 416.5 746.1 419.1 745.6 C421.6 745.1 424.2 744.6 426.7 744.1 C429.3 743.7 431.8 743.2 434.3 742.8 C436.8 742.4 439.3 742.0 441.7 741.6 C444.2 741.2 446.6 740.8 449.0 740.5 C451.4 740.1 453.7 739.8 456.0 739.5 C458.3 739.1 460.6 738.9 462.8 738.6 C465.0 738.3 467.2 738.1 469.3 737.8 C471.4 737.6 473.5 737.4 475.5 737.2 C477.4 737.0 479.4 736.9 481.2 736.7 C483.1 736.6 484.9 736.5 486.6 736.4 C488.3 736.3 490.0 736.2 491.5 736.2 C493.1 736.1 494.6 736.1 496.0 736.1 C497.3 736.1 498.7 736.1 499.9 736.2 C501.1 736.2 502.2 736.3 503.3 736.4 C504.3 736.5 505.3 736.6 506.2 736.7 C507.0 736.9 507.8 737.0 508.4 737.2 C509.1 737.4 509.7 737.6 510.2 737.9 C510.6 738.1 511.0 738.3 511.3 738.6 C511.6 738.9 511.7 739.2 511.8 739.5 C511.9 739.8 511.8 739.9 511.6 740.2 C511.5 740.4 511.2 740.7 510.9 740.9 C510.5 741.2 510.1 741.5 509.5 741.8 C509.0 742.2 508.3 742.5 507.6 742.9 C506.8 743.2 506.0 743.6 505.1 744.0 C504.1 744.4 503.1 744.8 502.0 745.2 C500.9 745.6 499.7 746.1 498.4 746.5 C497.1 747.0 495.7 747.4 494.3 747.9 C492.8 748.4 491.3 748.9 489.7 749.4 C488.0 749.9 486.3 750.5 484.6 751.0 C482.8 751.5 481.0 752.1 479.1 752.6 C477.2 753.2 475.2 753.8 473.2 754.3 C471.2 754.9 469.1 755.5 466.9 756.1 C464.8 756.7 462.6 757.3 460.4 757.9 C458.1 758.5 455.8 759.1 453.5 759.8 C451.2 760.4 448.8 761.0 446.4 761.6 C444.0 762.3 441.6 762.9 439.2 763.6 C436.7 764.2 434.2 764.8 431.7 765.5 C429.3 766.1 426.7 766.8 424.2 767.4 C421.7 768.1 419.2 768.7 416.7 769.4 C414.1 770.0 411.6 770.6 409.1 771.3 C406.6 771.9 404.1 772.6 401.6 773.2 C399.1 773.8 396.6 774.4 394.2 775.1 C391.7 775.7 389.3 776.3 386.9 776.9 C384.5 777.5 382.1 778.1 379.8 778.7 C377.4 779.2 375.1 779.8 372.9 780.3 C370.6 780.8 368.4 781.3 366.2 781.8 C364.1 782.3 361.9 782.7 359.9 783.1 C357.8 783.5 355.8 783.9 353.8 784.3 C351.9 784.6 350.0 785.0 348.2 785.3 C346.4 785.5 344.6 785.8 342.9 786.0 C341.2 786.3 339.6 786.5 338.1 786.7 C336.6 786.8 335.1 787.0 333.7 787.1 C332.4 787.2 331.1 787.3 329.9 787.3 C328.7 787.4 327.6 787.4 326.5 787.4 C325.5 787.4 324.6 787.3 323.7 787.2 C322.9 787.2 322.1 787.1 321.5 786.9 C320.8 786.8 320.3 786.6 319.8 786.5 C319.3 786.3 319.0 786.1 318.7 785.8 C318.4 785.6 318.3 785.4 318.2 785.0Z" stroke="#e9432f"/>
<path d="M330.9 781.6 C330.8 781.3 330.8 780.8 330.9 780.3 C330.9 779.9 331.1 779.4 331.3 778.9 C331.5 778.5 331.9 778.0 332.2 777.5 C332.6 776.9 333.1 776.4 333.7 775.9 C334.2 775.3 334.8 774.8 335.5 774.2 C336.2 773.7 337.0 773.1 337.9 772.5 C338.7 771.9 339.6 771.4 340.6 770.8 C341.6 770.2 342.7 769.6 343.9 769.0 C345.0 768.4 346.2 767.8 347.5 767.2 C348.8 766.6 350.1 766.0 351.5 765.4 C352.9 764.8 354.4 764.2 355.9 763.6 C357.4 763.1 359.0 762.5 360.6 761.9 C362.2 761.4 363.9 760.8 365.6 760.3 C367.4 759.7 369.2 759.2 371.0 758.7 C372.8 758.2 374.7 757.8 376.6 757.3 C378.5 756.8 380.4 756.4 382.4 755.9 C384.3 755.4 386.3 755.0 388.3 754.5 C390.3 754.1 392.4 753.6 394.4 753.2 C396.4 752.7 398.5 752.3 400.6 751.9 C402.6 751.4 404.7 751.0 406.8 750.6 C408.9 750.2 411.0 749.8 413.0 749.4 C415.1 749.0 417.2 748.7 419.2 748.3 C421.3 747.9 423.4 747.6 425.4 747.3 C427.4 746.9 429.5 746.6 431.5 746.3 C433.5 746.0 435.4 745.7 437.4 745.5 C439.3 745.2 441.2 745.0 443.1 744.7 C445.0 744.5 446.9 744.3 448.7 744.1 C450.5 743.9 452.2 743.7 454.0 743.5 C455.7 743.4 457.3 743.2 459.0 743.1 C460.6 743.0 462.2 742.8 463.7 742.8 C465.2 742.7 466.7 742.6 468.1 742.5 C469.4 742.5 470.8 742.4 472.1 742.4 C473.3 742.4 474.5 742.4 475.7 742.4 C476.8 742.4 477.9 742.5 478.9 742.5 C479.9 742.6 480.8 742.6 481.7 742.7 C482.5 742.8 483.3 742.9 484.0 743.0 C484.7 743.2 485.3 743.3 485.9 743.5 C486.4 743.6 486.9 743.8 487.3 744.0 C487.6 744.2 488.0 744.4 488.2 744.7 C488.4 744.9 488.6 745.2 488.6 745.4 C488.6 745.6 488.6 745.7 488.5 745.9 C488.3 746.1 488.1 746.4 487.8 746.6 C487.6 746.8 487.2 747.1 486.7 747.3 C486.3 747.6 485.8 747.8 485.2 748.1 C484.6 748.4 483.9 748.7 483.1 749.0 C482.4 749.3 481.5 749.7 480.6 750.0 C479.7 750.3 478.7 750.7 477.7 751.1 C476.6 751.4 475.5 751.8 474.3 752.2 C473.1 752.6 471.9 753.0 470.5 753.4 C469.2 753.8 467.8 754.2 466.4 754.6 C465.0 755.0 463.5 755.5 461.9 755.9 C460.4 756.4 458.8 756.8 457.1 757.3 C455.5 757.7 453.8 758.2 452.0 758.7 C450.3 759.1 448.5 759.6 446.6 760.1 C444.8 760.6 443.0 761.1 441.1 761.5 C439.2 762.0 437.2 762.5 435.3 763.0 C433.3 763.5 431.4 764.1 429.4 764.6 C427.4 765.1 425.4 765.6 423.3 766.1 C421.3 766.6 419.3 767.1 417.2 767.6 C415.2 768.2 413.1 768.7 411.1 769.2 C409.0 769.7 406.9 770.2 404.9 770.7 C402.8 771.2 400.8 771.7 398.8 772.3 C396.7 772.8 394.7 773.3 392.7 773.8 C390.7 774.3 388.7 774.8 386.8 775.2 C384.8 775.7 382.9 776.2 381.0 776.7 C379.1 777.1 377.2 777.6 375.4 778.0 C373.6 778.5 371.8 778.9 370.0 779.3 C368.2 779.6 366.5 780.0 364.8 780.3 C363.1 780.7 361.5 781.0 359.9 781.3 C358.3 781.6 356.8 781.8 355.3 782.1 C353.8 782.3 352.4 782.5 351.0 782.7 C349.7 782.9 348.4 783.0 347.1 783.2 C345.9 783.3 344.7 783.4 343.6 783.5 C342.5 783.6 341.4 783.6 340.4 783.7 C339.4 783.7 338.5 783.7 337.7 783.7 C336.9 783.7 336.1 783.6 335.4 783.6 C334.7 783.5 334.1 783.4 333.6 783.3 C333.0 783.2 332.6 783.0 332.2 782.9 C331.8 782.7 331.5 782.5 331.3 782.3 C331.1 782.1 331.0 781.9 330.9 781.6Z" stroke="#d82d29"/>
<path d="M341.9 778.2 C341.8 777.9 341.8 777.5 341.9 777.1 C341.9 776.8 342.0 776.4 342.2 776.0 C342.4 775.6 342.6 775.2 342.9 774.8 C343.2 774.4 343.6 773.9 344.0 773.5 C344.4 773.1 344.9 772.6 345.4 772.2 C346.0 771.7 346.6 771.2 347.2 770.8 C347.9 770.3 348.6 769.8 349.3 769.4 C350.1 768.9 350.9 768.4 351.8 767.9 C352.7 767.5 353.6 767.0 354.6 766.5 C355.6 766.0 356.6 765.6 357.7 765.1 C358.7 764.6 359.9 764.2 361.0 763.7 C362.2 763.3 363.4 762.8 364.7 762.4 C365.9 762.0 367.2 761.5 368.5 761.1 C369.9 760.7 371.2 760.3 372.6 759.9 C374.0 759.6 375.5 759.2 376.9 758.8 C378.4 758.5 379.9 758.1 381.4 757.8 C382.9 757.5 384.4 757.1 386.0 756.8 C387.5 756.4 389.1 756.1 390.7 755.8 C392.2 755.5 393.8 755.1 395.4 754.8 C397.0 754.5 398.6 754.2 400.2 753.9 C401.8 753.6 403.4 753.4 405.0 753.1 C406.6 752.8 408.2 752.6 409.8 752.3 C411.4 752.1 413.0 751.8 414.5 751.6 C416.1 751.4 417.7 751.2 419.2 751.0 C420.7 750.8 422.3 750.6 423.8 750.4 C425.3 750.2 426.7 750.1 428.2 749.9 C429.6 749.8 431.1 749.7 432.5 749.5 C433.9 749.4 435.2 749.3 436.5 749.2 C437.9 749.1 439.2 749.0 440.4 749.0 C441.7 748.9 442.9 748.9 444.0 748.8 C445.2 748.8 446.3 748.8 447.4 748.8 C448.5 748.8 449.5 748.8 450.5 748.8 C451.5 748.8 452.4 748.8 453.3 748.9 C454.2 748.9 455.0 749.0 455.8 749.0 C456.6 749.1 457.3 749.2 457.9 749.3 C458.6 749.4 459.2 749.5 459.7 749.6 C460.3 749.7 460.8 749.9 461.2 750.0 C461.6 750.2 462.0 750.3 462.3 750.5 C462.6 750.7 462.8 750.9 463.0 751.1 C463.1 751.3 463.3 751.5 463.3 751.7 C463.3 751.9 463.3 752.0 463.2 752.1 C463.1 752.3 462.9 752.5 462.7 752.7 C462.5 752.8 462.2 753.0 461.9 753.2 C461.5 753.4 461.1 753.6 460.7 753.9 C460.2 754.1 459.7 754.3 459.1 754.6 C458.5 754.8 457.9 755.0 457.2 755.3 C456.5 755.6 455.7 755.8 454.9 756.1 C454.1 756.4 453.2 756.7 452.3 756.9 C451.4 757.2 450.4 757.5 449.4 757.8 C448.4 758.1 447.3 758.4 446.2 758.7 C445.1 759.1 443.9 759.4 442.8 759.7 C441.6 760.0 440.3 760.4 439.0 760.7 C437.8 761.0 436.5 761.4 435.1 761.7 C433.8 762.1 432.4 762.4 431.0 762.8 C429.6 763.1 428.1 763.5 426.7 763.8 C425.2 764.2 423.7 764.6 422.2 764.9 C420.7 765.3 419.2 765.7 417.7 766.0 C416.1 766.4 414.6 766.8 413.0 767.2 C411.5 767.5 409.9 767.9 408.3 768.3 C406.7 768.7 405.2 769.1 403.6 769.5 C402.0 769.8 400.4 770.2 398.8 770.6 C397.3 771.0 395.7 771.4 394.1 771.7 C392.6 772.1 391.0 772.5 389.5 772.9 C387.9 773.2 386.4 773.6 384.9 774.0 C383.4 774.3 381.9 774.7 380.5 775.0 C379.0 775.4 377.6 775.7 376.2 776.1 C374.7 776.4 373.4 776.7 372.0 777.0 C370.6 777.3 369.3 777.5 368.0 777.8 C366.7 778.0 365.5 778.2 364.2 778.5 C363.0 778.7 361.8 778.9 360.7 779.0 C359.6 779.2 358.5 779.3 357.4 779.5 C356.4 779.6 355.4 779.7 354.4 779.8 C353.4 779.9 352.5 780.0 351.7 780.0 C350.8 780.0 350.0 780.1 349.2 780.1 C348.5 780.1 347.8 780.1 347.1 780.1 C346.5 780.0 345.9 780.0 345.4 779.9 C344.9 779.8 344.4 779.7 344.0 779.6 C343.6 779.5 343.2 779.4 342.9 779.3 C342.6 779.1 342.4 779.0 342.2 778.8 C342.1 778.6 342.0 778.5 341.9 778.2Z" stroke="#c92327"/>
<path d="M353.7 774.9 C353.7 774.7 353.6 774.3 353.6 774.0 C353.7 773.8 353.7 773.4 353.8 773.1 C353.9 772.8 354.1 772.5 354.3 772.2 C354.5 771.8 354.7 771.5 355.0 771.2 C355.2 770.8 355.5 770.5 355.9 770.1 C356.2 769.8 356.6 769.4 357.0 769.1 C357.5 768.7 357.9 768.4 358.4 768.0 C358.9 767.6 359.4 767.3 360.0 766.9 C360.6 766.6 361.2 766.2 361.8 765.8 C362.4 765.5 363.1 765.1 363.8 764.8 C364.5 764.4 365.3 764.1 366.0 763.8 C366.8 763.4 367.6 763.1 368.4 762.8 C369.2 762.5 370.1 762.2 370.9 761.9 C371.8 761.6 372.7 761.3 373.6 761.0 C374.5 760.7 375.5 760.5 376.4 760.3 C377.4 760.0 378.4 759.8 379.4 759.6 C380.4 759.3 381.4 759.1 382.4 758.9 C383.4 758.7 384.4 758.4 385.5 758.2 C386.5 758.0 387.6 757.8 388.6 757.6 C389.7 757.4 390.7 757.3 391.8 757.1 C392.8 756.9 393.9 756.7 394.9 756.6 C396.0 756.4 397.1 756.3 398.1 756.1 C399.2 756.0 400.2 755.9 401.3 755.7 C402.3 755.6 403.3 755.5 404.3 755.4 C405.4 755.3 406.4 755.2 407.4 755.2 C408.4 755.1 409.4 755.0 410.3 755.0 C411.3 754.9 412.2 754.9 413.2 754.8 C414.1 754.8 415.0 754.8 415.9 754.7 C416.7 754.7 417.6 754.7 418.4 754.7 C419.3 754.7 420.1 754.7 420.9 754.8 C421.6 754.8 422.4 754.8 423.1 754.9 C423.8 754.9 424.5 754.9 425.2 755.0 C425.8 755.1 426.5 755.1 427.0 755.2 C427.6 755.3 428.2 755.4 428.7 755.5 C429.2 755.6 429.7 755.7 430.1 755.8 C430.6 755.9 431.0 756.0 431.4 756.1 C431.7 756.3 432.0 756.4 432.3 756.5 C432.6 756.7 432.9 756.8 433.1 757.0 C433.3 757.1 433.4 757.3 433.6 757.5 C433.7 757.6 433.8 757.9 433.8 758.0 C433.8 758.1 433.8 758.2 433.7 758.4 C433.7 758.5 433.6 758.6 433.4 758.8 C433.3 758.9 433.1 759.0 432.9 759.2 C432.7 759.3 432.4 759.5 432.1 759.7 C431.8 759.8 431.5 760.0 431.1 760.2 C430.7 760.3 430.3 760.5 429.8 760.7 C429.3 760.8 428.8 761.0 428.3 761.2 C427.8 761.4 427.2 761.6 426.6 761.8 C426.0 762.0 425.4 762.2 424.7 762.4 C424.0 762.6 423.3 762.8 422.6 763.0 C421.9 763.2 421.1 763.4 420.3 763.6 C419.5 763.8 418.7 764.0 417.9 764.3 C417.0 764.5 416.2 764.7 415.3 764.9 C414.4 765.1 413.5 765.4 412.6 765.6 C411.6 765.8 410.7 766.1 409.7 766.3 C408.8 766.5 407.8 766.8 406.8 767.0 C405.8 767.2 404.8 767.5 403.8 767.7 C402.8 767.9 401.7 768.2 400.7 768.4 C399.7 768.7 398.6 768.9 397.6 769.2 C396.6 769.4 395.5 769.7 394.5 769.9 C393.4 770.2 392.4 770.4 391.4 770.7 C390.3 770.9 389.3 771.2 388.3 771.4 C387.2 771.7 386.2 771.9 385.2 772.2 C384.2 772.4 383.2 772.7 382.2 772.9 C381.2 773.1 380.2 773.4 379.3 773.6 C378.3 773.8 377.3 774.1 376.4 774.3 C375.5 774.5 374.6 774.7 373.7 774.9 C372.8 775.0 371.9 775.2 371.0 775.4 C370.2 775.5 369.4 775.7 368.6 775.8 C367.7 775.9 367.0 776.0 366.2 776.1 C365.5 776.2 364.7 776.3 364.0 776.4 C363.3 776.5 362.7 776.5 362.0 776.6 C361.4 776.6 360.8 776.6 360.2 776.6 C359.7 776.7 359.1 776.7 358.6 776.6 C358.1 776.6 357.7 776.6 357.2 776.5 C356.8 776.5 356.4 776.4 356.1 776.4 C355.7 776.3 355.4 776.2 355.1 776.1 C354.8 776.0 354.6 775.9 354.4 775.8 C354.2 775.7 354.0 775.5 353.9 775.4 C353.8 775.2 353.7 775.1 353.7 774.9Z" stroke="#bb1b26"/>
<path d="M369.7 770.6 C369.7 770.4 369.6 770.2 369.6 770.0 C369.6 769.7 369.6 769.5 369.7 769.3 C369.7 769.1 369.8 768.8 369.8 768.6 C369.9 768.4 370.0 768.1 370.1 767.9 C370.2 767.7 370.3 767.4 370.5 767.2 C370.6 766.9 370.8 766.7 370.9 766.4 C371.1 766.2 371.3 765.9 371.5 765.7 C371.7 765.5 372.0 765.2 372.2 765.0 C372.5 764.7 372.7 764.5 373.0 764.3 C373.3 764.0 373.6 763.8 373.9 763.6 C374.2 763.3 374.5 763.1 374.8 762.9 C375.2 762.7 375.5 762.5 375.9 762.3 C376.2 762.1 376.6 761.9 377.0 761.7 C377.4 761.5 377.8 761.3 378.2 761.1 C378.6 761.0 379.0 760.8 379.5 760.7 C379.9 760.5 380.3 760.4 380.8 760.3 C381.2 760.2 381.7 760.1 382.2 760.0 C382.6 759.9 383.1 759.8 383.6 759.7 C384.0 759.6 384.5 759.5 385.0 759.4 C385.5 759.3 386.0 759.3 386.5 759.2 C386.9 759.1 387.4 759.1 387.9 759.0 C388.4 759.0 388.9 758.9 389.4 758.9 C389.9 758.9 390.3 758.9 390.8 758.8 C391.3 758.8 391.8 758.8 392.3 758.8 C392.7 758.8 393.2 758.8 393.7 758.9 C394.1 758.9 394.6 758.9 395.0 758.9 C395.5 759.0 395.9 759.0 396.4 759.1 C396.8 759.1 397.2 759.2 397.6 759.2 C398.1 759.3 398.5 759.3 398.9 759.4 C399.2 759.5 399.6 759.6 400.0 759.7 C400.4 759.7 400.7 759.8 401.1 759.9 C401.4 760.0 401.7 760.1 402.0 760.2 C402.4 760.3 402.7 760.4 402.9 760.5 C403.2 760.6 403.5 760.8 403.7 760.9 C404.0 761.0 404.2 761.1 404.4 761.2 C404.7 761.4 404.9 761.5 405.0 761.6 C405.2 761.8 405.4 761.9 405.5 762.0 C405.7 762.2 405.8 762.3 405.9 762.4 C406.0 762.6 406.1 762.7 406.2 762.9 C406.2 763.0 406.3 763.2 406.3 763.3 C406.3 763.4 406.3 763.5 406.3 763.6 C406.3 763.7 406.2 763.8 406.2 763.9 C406.1 764.0 406.0 764.1 405.9 764.2 C405.8 764.3 405.7 764.4 405.6 764.5 C405.5 764.6 405.3 764.7 405.1 764.8 C405.0 764.9 404.8 765.0 404.6 765.1 C404.4 765.2 404.1 765.3 403.9 765.4 C403.7 765.5 403.4 765.6 403.1 765.7 C402.9 765.8 402.6 765.9 402.3 766.0 C402.0 766.1 401.6 766.2 401.3 766.3 C401.0 766.4 400.6 766.5 400.3 766.6 C399.9 766.7 399.5 766.8 399.2 766.9 C398.8 767.0 398.4 767.1 398.0 767.2 C397.6 767.3 397.2 767.4 396.7 767.5 C396.3 767.6 395.9 767.7 395.4 767.8 C395.0 767.9 394.6 768.0 394.1 768.1 C393.7 768.2 393.2 768.3 392.7 768.4 C392.3 768.5 391.8 768.6 391.3 768.7 C390.9 768.8 390.4 768.9 389.9 769.1 C389.4 769.2 389.0 769.3 388.5 769.4 C388.0 769.5 387.5 769.6 387.1 769.8 C386.6 769.9 386.1 770.0 385.7 770.1 C385.2 770.2 384.7 770.3 384.3 770.5 C383.8 770.6 383.3 770.7 382.9 770.8 C382.4 770.9 382.0 771.1 381.6 771.2 C381.1 771.3 380.7 771.4 380.3 771.5 C379.8 771.6 379.4 771.6 379.0 771.7 C378.6 771.8 378.2 771.9 377.8 771.9 C377.4 772.0 377.0 772.0 376.7 772.1 C376.3 772.1 375.9 772.2 375.6 772.2 C375.2 772.2 374.9 772.3 374.6 772.3 C374.3 772.3 374.0 772.3 373.7 772.3 C373.4 772.3 373.1 772.3 372.8 772.2 C372.6 772.2 372.3 772.2 372.1 772.1 C371.8 772.1 371.6 772.1 371.4 772.0 C371.2 772.0 371.0 771.9 370.9 771.8 C370.7 771.7 370.6 771.7 370.4 771.6 C370.3 771.5 370.2 771.4 370.1 771.3 C370.0 771.2 369.9 771.1 369.8 771.0 C369.8 770.9 369.7 770.8 369.7 770.6Z" stroke="#ab1424"/>
<path d="M377.5 768.6 C377.5 768.5 377.5 768.3 377.5 768.2 C377.5 768.0 377.5 767.9 377.5 767.7 C377.6 767.5 377.6 767.4 377.7 767.2 C377.7 767.1 377.8 766.9 377.9 766.7 C377.9 766.6 378.0 766.4 378.1 766.2 C378.2 766.1 378.3 765.9 378.5 765.7 C378.6 765.5 378.7 765.4 378.9 765.2 C379.0 765.0 379.2 764.9 379.3 764.7 C379.5 764.5 379.7 764.4 379.9 764.2 C380.0 764.0 380.2 763.9 380.4 763.7 C380.6 763.5 380.9 763.4 381.1 763.2 C381.3 763.1 381.5 762.9 381.8 762.8 C382.0 762.6 382.3 762.5 382.5 762.3 C382.8 762.2 383.0 762.1 383.3 761.9 C383.6 761.8 383.8 761.7 384.1 761.6 C384.4 761.5 384.7 761.4 385.0 761.3 C385.3 761.2 385.6 761.1 385.9 761.0 C386.2 761.0 386.5 760.9 386.8 760.9 C387.1 760.8 387.4 760.7 387.7 760.7 C388.0 760.7 388.4 760.6 388.7 760.6 C389.0 760.6 389.3 760.6 389.6 760.6 C389.9 760.6 390.3 760.5 390.6 760.6 C390.9 760.6 391.2 760.6 391.5 760.6 C391.8 760.6 392.1 760.6 392.4 760.7 C392.8 760.7 393.1 760.8 393.4 760.8 C393.7 760.9 394.0 760.9 394.3 761.0 C394.5 761.0 394.8 761.1 395.1 761.2 C395.4 761.3 395.7 761.3 395.9 761.4 C396.2 761.5 396.5 761.6 396.7 761.7 C397.0 761.8 397.2 761.9 397.5 762.0 C397.7 762.1 397.9 762.2 398.2 762.3 C398.4 762.4 398.6 762.5 398.8 762.6 C399.0 762.7 399.2 762.8 399.4 762.9 C399.6 763.1 399.7 763.2 399.9 763.3 C400.0 763.4 400.2 763.5 400.3 763.7 C400.5 763.8 400.6 763.9 400.7 764.0 C400.8 764.1 400.9 764.3 401.0 764.4 C401.1 764.5 401.2 764.6 401.3 764.8 C401.3 764.9 401.4 765.0 401.4 765.1 C401.5 765.3 401.5 765.4 401.5 765.5 C401.5 765.6 401.5 765.7 401.5 765.7 C401.5 765.8 401.4 765.9 401.4 765.9 C401.4 766.0 401.3 766.1 401.2 766.2 C401.2 766.2 401.1 766.3 401.0 766.4 C400.9 766.4 400.8 766.5 400.7 766.6 C400.6 766.6 400.5 766.7 400.3 766.7 C400.2 766.8 400.0 766.9 399.9 766.9 C399.7 767.0 399.6 767.0 399.4 767.1 C399.2 767.1 399.0 767.2 398.8 767.2 C398.6 767.3 398.4 767.3 398.2 767.4 C397.9 767.4 397.7 767.5 397.5 767.5 C397.2 767.5 397.0 767.6 396.7 767.6 C396.5 767.7 396.2 767.7 396.0 767.8 C395.7 767.8 395.4 767.8 395.1 767.9 C394.9 767.9 394.6 768.0 394.3 768.0 C394.0 768.0 393.7 768.1 393.4 768.1 C393.1 768.2 392.8 768.2 392.5 768.2 C392.2 768.3 391.9 768.3 391.6 768.4 C391.3 768.4 391.0 768.5 390.6 768.5 C390.3 768.6 390.0 768.6 389.7 768.7 C389.4 768.7 389.1 768.8 388.8 768.8 C388.5 768.9 388.1 768.9 387.8 769.0 C387.5 769.0 387.2 769.1 386.9 769.1 C386.6 769.2 386.3 769.2 386.0 769.3 C385.7 769.3 385.4 769.4 385.1 769.4 C384.8 769.5 384.6 769.5 384.3 769.6 C384.0 769.6 383.7 769.6 383.5 769.7 C383.2 769.7 382.9 769.7 382.7 769.8 C382.4 769.8 382.2 769.8 381.9 769.8 C381.7 769.8 381.5 769.8 381.2 769.9 C381.0 769.9 380.8 769.9 380.6 769.9 C380.4 769.9 380.2 769.9 380.0 769.8 C379.8 769.8 379.6 769.8 379.5 769.8 C379.3 769.8 379.1 769.7 379.0 769.7 C378.8 769.7 378.7 769.6 378.6 769.6 C378.4 769.6 378.3 769.5 378.2 769.5 C378.1 769.4 378.0 769.3 377.9 769.3 C377.8 769.2 377.8 769.2 377.7 769.1 C377.7 769.0 377.6 768.9 377.6 768.9 C377.5 768.8 377.5 768.7 377.5 768.6Z" stroke="#990f1e"/>
</g>
<g fill="none" stroke-width="2.8" stroke-linejoin="round">
<path d="M289.8 537.9 C290.3 529.6 288.9 523.5 289.8 516.3 C290.7 509.1 292.8 502.2 295.2 494.7 C297.6 487.2 300.6 478.6 304.2 471.4 C307.8 464.2 312.0 456.7 316.8 451.6 C321.6 446.5 327.3 443.4 333.0 440.8 C338.7 438.2 344.9 436.9 350.9 436.3 C356.9 435.7 362.9 436.1 368.9 437.2 C374.9 438.2 380.9 440.5 386.9 442.6 C392.9 444.7 399.3 447.5 404.9 450.0 C410.5 452.5 414.6 454.9 420.6 457.8 C426.6 460.7 434.2 464.0 441.1 467.4 C448.0 470.8 454.8 474.7 461.7 478.4 C468.6 482.1 475.4 486.1 482.3 489.4 C489.2 492.7 496.9 495.2 502.9 498.0 C508.8 500.8 513.8 502.7 518.0 506.0 C522.2 509.3 525.2 513.2 528.0 518.0 C530.8 522.8 532.5 529.8 535.0 535.0 C537.5 540.2 540.0 543.6 543.3 549.5 C546.6 555.4 550.7 564.3 555.0 570.5 C559.3 576.7 565.4 582.7 568.9 586.8 C572.4 590.9 575.8 592.0 576.0 595.0 C576.2 598.0 572.4 602.2 570.0 605.0 C567.6 607.8 564.6 608.3 561.9 612.0 C559.1 615.7 556.3 621.5 553.5 627.1 C550.7 632.7 548.7 639.8 545.0 645.7 C541.3 651.6 537.1 657.2 531.5 662.6 C525.9 668.0 518.9 672.7 511.3 677.8 C503.7 682.9 495.9 689.4 486.0 693.0 C476.1 696.6 463.2 699.1 452.2 699.7 C441.2 700.3 430.1 696.8 420.0 696.5 C409.9 696.2 400.0 697.7 391.6 698.1 C383.2 698.5 376.4 699.3 369.7 699.0 C362.9 698.7 357.6 698.0 351.1 696.5 C344.6 695.0 337.6 692.2 330.9 689.7 C324.1 687.2 316.8 684.7 310.6 681.3 C304.4 677.9 298.6 674.3 293.8 669.5 C289.0 664.7 285.6 659.1 281.9 652.6 C278.2 646.1 274.3 637.6 271.8 630.6 C269.3 623.6 267.4 616.3 266.8 610.4 C266.2 604.5 266.9 599.9 268.4 595.2 C269.9 590.5 272.9 586.9 276.0 582.0 C279.1 577.1 284.7 573.4 287.0 566.0 C289.3 558.6 289.3 546.2 289.8 537.9Z" stroke="#d8efd2"/>
<path d="M310.5 530.7 C309.3 523.8 308.9 518.1 309.6 510.9 C310.4 503.7 312.6 494.2 315.0 487.6 C317.4 481.0 320.1 476.2 324.0 471.4 C327.9 466.6 332.9 461.9 338.3 458.8 C343.7 455.7 350.3 453.6 356.3 452.5 C362.3 451.4 368.3 451.4 374.3 452.5 C380.3 453.6 386.3 456.6 392.3 458.8 C398.3 461.1 404.5 463.2 410.3 466.0 C416.1 468.8 420.0 471.6 427.4 475.7 C434.8 479.8 445.8 486.1 454.9 490.7 C464.0 495.3 473.2 498.8 482.3 503.1 C491.4 507.5 503.1 513.3 509.7 516.8 C516.3 520.3 518.4 521.0 522.0 524.0 C525.6 527.0 529.0 530.7 531.5 535.0 C534.0 539.3 535.6 545.3 537.0 550.0 C538.4 554.7 539.4 559.1 540.0 563.2 C540.6 567.3 540.9 570.0 540.8 574.8 C540.7 579.6 540.3 586.5 539.6 592.2 C538.9 597.9 537.9 603.2 536.5 609.0 C535.1 614.8 534.6 620.7 531.5 627.1 C528.4 633.5 523.3 641.2 518.0 647.4 C512.7 653.6 506.2 659.2 499.5 664.3 C492.8 669.4 485.4 674.4 477.5 677.8 C469.6 681.2 461.8 683.8 452.2 684.5 C442.6 685.2 429.5 682.4 420.0 682.1 C410.5 681.9 403.1 683.0 395.0 683.0 C386.9 683.0 378.7 683.2 371.4 682.1 C364.1 681.0 357.9 678.6 351.1 676.2 C344.4 673.8 337.6 671.2 330.9 667.8 C324.1 664.4 316.5 660.5 310.6 656.0 C304.7 651.5 299.3 646.4 295.4 640.8 C291.5 635.2 288.4 628.1 287.0 622.2 C285.6 616.3 285.3 610.4 287.0 605.3 C288.7 600.2 293.9 594.9 297.1 591.8 C300.3 588.7 302.7 590.1 306.0 586.5 C309.3 582.9 315.0 576.0 316.8 570.3 C318.6 564.6 317.9 558.9 316.8 552.3 C315.8 545.7 311.7 537.6 310.5 530.7Z" stroke="#bce4b5"/>
<path d="M324.9 509.1 C325.3 501.9 327.2 493.3 329.4 487.6 C331.6 481.9 334.4 478.6 338.3 475.0 C342.2 471.4 347.3 467.9 352.7 466.0 C358.1 464.1 364.7 463.0 370.7 463.3 C376.7 463.6 382.7 465.9 388.7 467.8 C394.7 469.8 400.2 471.9 406.7 475.0 C413.1 478.1 419.4 482.2 427.4 486.6 C435.4 491.1 445.8 497.3 454.9 501.7 C464.0 506.1 473.2 508.8 482.3 512.7 C491.4 516.6 503.4 521.5 509.7 525.0 C516.0 528.5 517.3 530.7 520.0 534.0 C522.7 537.3 524.5 541.1 526.0 545.0 C527.5 548.9 528.3 553.4 529.0 557.4 C529.7 561.4 530.3 563.8 530.3 569.0 C530.3 574.2 529.6 583.0 529.2 588.7 C528.8 594.5 529.7 597.6 528.1 603.5 C526.5 609.4 523.1 617.3 519.7 623.8 C516.3 630.3 512.7 636.7 507.9 642.3 C503.1 647.9 497.5 653.3 491.0 657.5 C484.5 661.7 477.0 665.2 469.1 667.6 C461.2 670.0 452.0 671.5 443.8 671.9 C435.6 672.3 430.4 670.4 420.0 670.3 C409.6 670.2 391.9 671.5 381.5 671.1 C371.1 670.7 365.5 669.5 357.9 667.8 C350.3 666.1 342.8 664.1 336.0 661.0 C329.2 657.9 322.5 653.7 317.4 649.2 C312.3 644.7 307.9 639.4 305.6 634.0 C303.4 628.6 302.8 622.2 303.9 617.1 C305.0 612.0 308.4 607.5 312.3 603.6 C316.2 599.7 323.9 599.0 327.5 593.5 C331.1 588.0 333.0 577.2 333.8 570.3 C334.6 563.4 333.3 558.9 332.1 552.3 C330.9 545.7 327.9 537.9 326.7 530.7 C325.5 523.5 324.4 516.3 324.9 509.1Z" stroke="#9bd595"/>
<path d="M338.3 510.9 C338.3 504.6 338.9 497.8 341.0 492.9 C343.1 488.0 346.5 484.0 350.9 481.3 C355.2 478.6 361.4 477.4 367.1 476.8 C372.8 476.2 379.1 476.5 385.1 477.7 C391.1 478.9 396.1 480.9 403.1 484.0 C410.2 487.1 418.8 491.9 427.4 496.2 C436.0 500.5 445.8 505.8 454.9 509.9 C464.0 514.0 473.2 517.0 482.3 520.9 C491.4 524.8 503.9 529.6 509.7 533.3 C515.5 537.0 515.1 539.0 517.0 543.0 C518.9 547.0 520.1 553.1 521.1 557.4 C522.1 561.7 522.8 564.2 523.0 569.0 C523.2 573.8 523.0 580.6 522.2 586.4 C521.4 592.1 520.4 597.3 518.0 603.5 C515.6 609.7 512.4 617.6 507.9 623.8 C503.4 630.0 497.5 635.8 491.0 640.6 C484.5 645.4 477.0 649.6 469.1 652.4 C461.2 655.2 452.0 656.6 443.8 657.5 C435.6 658.4 430.9 657.6 420.0 657.6 C409.1 657.6 389.0 658.2 378.1 657.6 C367.2 657.0 361.5 656.3 354.5 654.3 C347.5 652.3 340.7 649.2 335.9 645.8 C331.1 642.4 327.8 638.2 325.8 634.0 C323.8 629.8 323.2 624.4 324.1 620.5 C325.0 616.6 327.5 613.8 330.9 610.4 C334.3 607.0 341.6 604.9 344.4 600.3 C347.2 595.7 347.2 588.5 347.8 582.9 C348.4 577.3 348.6 572.4 348.2 566.7 C347.8 561.0 346.7 554.7 345.5 548.7 C344.3 542.7 342.2 537.0 341.0 530.7 C339.8 524.4 338.3 517.2 338.3 510.9Z" stroke="#78c679"/>
<path d="M352.7 507.3 C353.6 502.5 355.4 499.2 358.1 496.5 C360.8 493.8 364.4 492.2 368.9 491.2 C373.4 490.2 379.4 489.7 385.1 490.3 C390.8 490.9 396.1 492.3 403.1 494.7 C410.2 497.1 418.8 501.1 427.4 504.5 C436.0 507.9 445.8 512.2 454.9 515.4 C464.0 518.6 474.3 520.6 482.3 523.7 C490.3 526.8 498.2 530.8 502.9 534.0 C507.6 537.2 508.6 539.5 510.5 543.0 C512.4 546.5 513.1 550.8 514.1 555.1 C515.1 559.4 516.0 563.8 516.2 569.0 C516.4 574.2 515.8 581.5 515.3 586.4 C514.8 591.3 515.1 593.6 513.0 598.4 C510.9 603.2 507.0 610.2 502.8 615.3 C498.6 620.4 493.2 624.9 487.6 628.8 C482.0 632.7 476.4 636.5 469.1 638.9 C461.8 641.3 452.0 642.2 443.8 643.2 C435.6 644.2 428.1 644.6 420.0 645.0 C411.9 645.4 403.4 645.9 395.0 645.8 C386.6 645.6 376.4 645.5 369.7 644.1 C362.9 642.7 358.0 640.2 354.5 637.4 C351.0 634.6 349.2 631.0 348.6 627.3 C348.0 623.6 349.3 619.9 351.1 615.4 C352.9 610.9 358.1 605.7 359.6 600.3 C361.1 594.9 360.0 588.8 359.9 582.9 C359.8 577.0 359.6 571.2 359.0 564.9 C358.4 558.6 357.4 551.7 356.3 545.1 C355.2 538.5 353.3 531.6 352.7 525.3 C352.1 519.0 351.8 512.1 352.7 507.3Z" stroke="#5cb86a"/>
<path d="M375.2 521.7 C374.6 518.7 375.1 516.6 376.1 514.5 C377.2 512.4 378.8 510.2 381.5 509.1 C384.2 508.1 388.1 507.8 392.3 508.2 C396.5 508.6 402.0 509.5 406.7 511.8 C411.4 514.1 414.9 519.6 420.6 522.3 C426.3 525.0 434.2 527.1 441.1 527.8 C448.0 528.5 454.8 526.2 461.7 526.4 C468.6 526.6 476.6 527.5 482.3 529.1 C488.0 530.7 492.4 533.4 496.0 536.0 C499.6 538.6 501.9 541.7 504.0 545.0 C506.1 548.3 507.6 552.0 508.5 556.0 C509.4 560.0 509.5 563.9 509.5 569.0 C509.5 574.1 509.7 580.6 508.3 586.4 C506.9 592.1 504.8 598.1 501.1 603.5 C497.4 608.9 491.2 614.5 485.9 618.7 C480.6 622.9 476.1 626.4 469.1 628.8 C462.1 631.2 452.0 632.5 443.8 633.0 C435.6 633.5 425.9 631.9 420.0 631.5 C414.1 631.1 413.2 631.3 408.5 630.6 C403.8 629.9 396.4 629.5 391.6 627.3 C386.8 625.0 382.6 621.6 379.8 617.1 C377.0 612.6 375.9 606.0 374.8 600.3 C373.7 594.6 373.2 588.8 373.4 582.9 C373.6 577.0 374.8 571.2 376.1 564.9 C377.5 558.6 380.9 550.5 381.5 545.1 C382.1 539.7 380.8 536.4 379.7 532.5 C378.6 528.6 375.8 524.7 375.2 521.7Z" stroke="#43a95b"/>
<path d="M388.3 596.9 C387.2 590.8 386.8 580.1 388.7 573.9 C390.6 567.7 395.3 563.1 399.5 559.5 C403.7 555.9 410.4 553.9 413.9 552.3 C417.4 550.7 416.1 551.5 420.6 549.7 C425.1 547.9 434.2 543.8 441.1 541.5 C448.0 539.2 456.0 537.1 461.7 536.0 C467.4 534.9 470.8 534.1 475.4 534.6 C480.0 535.1 485.2 536.6 489.1 538.7 C493.0 540.8 496.5 543.5 498.7 547.0 C500.9 550.5 501.9 555.8 502.5 560.0 C503.1 564.2 502.9 567.6 502.5 572.0 C502.1 576.4 501.6 582.3 500.2 586.4 C498.8 590.5 497.6 593.1 494.4 596.8 C491.2 600.5 486.5 604.8 480.9 608.6 C475.3 612.4 468.2 617.0 460.6 619.5 C453.0 622.0 442.9 623.4 435.3 623.8 C427.7 624.2 419.7 622.7 415.2 621.9 C410.7 621.1 411.9 620.7 408.5 618.8 C405.1 616.9 398.4 614.0 395.0 610.4 C391.6 606.8 389.4 603.0 388.3 596.9Z" stroke="#2e9549"/>
<path d="M401.5 592.0 C401.4 588.5 401.3 583.2 403.1 579.3 C404.9 575.4 409.5 570.6 412.1 568.5 C414.8 566.4 414.7 567.6 419.0 566.7 C423.3 565.8 432.1 564.5 438.1 562.9 C444.1 561.3 450.1 559.8 455.2 557.1 C460.3 554.5 464.1 548.9 468.6 547.0 C473.1 545.1 478.7 544.7 482.3 545.6 C485.9 546.5 488.7 549.3 490.5 552.5 C492.3 555.7 493.3 560.5 493.3 564.8 C493.3 569.1 492.6 574.1 490.5 578.3 C488.4 582.5 483.6 586.6 480.9 590.0 C478.2 593.4 478.0 595.0 474.1 598.4 C470.2 601.8 463.8 607.5 457.3 610.3 C450.8 613.1 441.0 614.6 435.3 615.3 C429.6 616.0 427.1 615.7 422.9 614.3 C418.7 612.9 413.1 609.3 410.0 606.9 C406.9 604.5 405.4 602.5 404.0 600.0 C402.6 597.5 401.6 595.5 401.5 592.0Z" stroke="#1c8340"/>
<path d="M414.3 591.4 C414.9 587.9 417.7 582.6 421.0 580.0 C424.3 577.4 429.9 576.0 434.3 575.8 C438.7 575.6 444.1 577.0 447.6 579.0 C451.1 581.0 454.2 584.6 455.2 587.6 C456.1 590.6 455.5 594.2 453.3 597.1 C451.1 600.0 446.3 603.4 441.9 604.8 C437.5 606.2 430.8 606.3 426.7 605.7 C422.6 605.1 419.2 603.4 417.1 601.0 C415.0 598.6 413.7 594.9 414.3 591.4Z" stroke="#09692b"/>
</g>
<g fill="none" stroke-width="2.8" stroke-linejoin="round">
<path d="M377.4 433.6 C377.9 424.8 378.8 414.3 380.0 405.0 C381.2 395.7 383.3 384.8 384.5 378.0 C385.7 371.2 385.8 368.1 387.0 364.0 C388.2 359.9 389.8 356.2 392.0 353.5 C394.2 350.8 396.7 349.1 400.0 347.5 C403.3 345.9 407.1 344.9 412.0 343.8 C416.9 342.8 421.4 342.3 429.2 341.2 C437.0 340.1 447.0 338.6 458.8 337.4 C470.6 336.1 489.5 334.4 500.0 333.7 C510.5 333.0 512.7 332.5 521.6 333.2 C530.5 333.9 544.1 335.8 553.3 337.9 C562.5 340.0 569.1 342.4 577.0 345.8 C584.9 349.2 592.9 354.0 600.8 358.5 C608.7 363.0 618.0 367.9 624.5 372.7 C631.0 377.4 635.4 381.3 640.0 387.0 C644.6 392.7 648.6 399.4 652.3 406.8 C656.0 414.2 658.8 423.3 662.0 431.6 C665.2 439.9 668.2 447.7 671.6 456.4 C675.0 465.1 678.5 474.7 682.6 483.9 C686.7 493.1 691.8 504.1 696.4 511.5 C701.0 518.9 707.0 523.0 710.2 528.0 C713.4 533.0 715.2 537.7 715.7 541.8 C716.2 545.9 715.2 550.3 712.9 552.8 C710.6 555.3 706.9 556.7 701.9 556.9 C696.9 557.1 689.0 555.8 682.6 554.2 C676.2 552.6 669.3 549.4 663.3 547.3 C657.3 545.2 651.4 541.8 646.8 541.8 C642.2 541.8 638.5 543.6 635.8 547.3 C633.0 551.0 631.7 558.3 630.3 563.8 C628.9 569.3 628.9 575.2 627.5 580.3 C626.1 585.3 624.8 590.4 622.0 594.1 C619.2 597.8 615.3 600.6 611.0 602.4 C606.7 604.2 601.2 605.0 596.0 605.0 C590.8 605.0 586.5 603.6 580.0 602.4 C573.5 601.2 564.0 599.7 557.3 597.8 C550.6 595.9 545.6 593.7 539.8 590.8 C534.0 587.9 528.2 584.2 522.4 580.3 C516.6 576.4 510.7 572.0 504.9 567.5 C499.1 563.0 493.3 557.7 487.5 553.6 C481.7 549.5 475.4 546.9 470.0 543.1 C464.6 539.3 460.9 534.9 455.3 530.6 C449.7 526.3 442.6 521.3 436.2 517.2 C429.8 513.1 423.5 509.9 417.2 505.8 C410.9 501.7 403.5 497.2 398.1 492.4 C392.7 487.6 388.3 482.9 384.8 477.2 C381.3 471.5 378.4 465.4 377.2 458.1 C376.0 450.8 376.9 442.5 377.4 433.6Z" stroke="#d6e6f4"/>
<path d="M396.2 458.1 C394.8 452.3 395.2 444.6 395.3 439.1 C395.4 433.6 395.8 430.9 397.0 425.0 C398.2 419.1 400.2 411.2 402.6 404.0 C405.0 396.8 408.3 387.5 411.5 381.8 C414.7 376.1 417.6 373.4 421.8 370.0 C426.0 366.6 430.4 363.8 436.6 361.1 C442.8 358.4 448.2 355.8 458.8 353.7 C469.4 351.6 489.5 349.4 500.0 348.5 C510.5 347.6 512.7 347.3 521.6 348.2 C530.5 349.1 542.8 350.9 553.3 353.7 C563.8 356.5 575.7 361.1 584.9 364.8 C594.1 368.5 601.3 371.7 608.7 375.9 C616.1 380.1 623.8 384.1 629.2 390.1 C634.6 396.1 637.9 403.2 641.3 412.0 C644.7 420.8 647.9 432.9 649.6 442.6 C651.3 452.3 652.1 461.3 651.5 470.0 C650.9 478.7 648.9 486.7 646.0 495.0 C643.1 503.3 638.2 512.2 634.0 520.0 C629.8 527.8 625.0 534.5 621.0 542.0 C617.0 549.5 613.8 558.7 610.0 565.0 C606.2 571.3 603.0 576.4 598.0 580.0 C593.0 583.6 586.8 586.0 580.0 586.7 C573.2 587.4 564.0 585.6 557.3 584.4 C550.6 583.1 545.6 581.6 539.8 579.2 C534.0 576.8 528.2 573.7 522.4 569.8 C516.6 565.9 510.7 560.8 504.9 555.9 C499.1 551.0 493.3 545.0 487.5 540.7 C481.7 536.4 475.4 534.8 470.0 530.3 C464.6 525.8 460.9 519.2 455.3 514.0 C449.7 508.8 442.6 503.6 436.2 499.0 C429.8 494.4 422.6 490.7 417.2 486.5 C411.8 482.3 407.3 478.7 403.8 474.0 C400.3 469.3 397.6 463.9 396.2 458.1Z" stroke="#bad6eb"/>
<path d="M408.6 439.1 C408.6 432.8 410.5 425.9 411.5 420.0 C412.5 414.1 412.4 409.6 414.4 404.0 C416.4 398.4 420.1 391.2 423.3 386.3 C426.5 381.4 429.0 377.9 433.7 374.4 C438.4 370.9 444.8 367.6 451.4 365.5 C458.0 363.4 465.5 362.7 473.6 361.8 C481.7 360.9 492.0 360.3 500.0 360.4 C508.0 360.5 512.7 361.4 521.6 362.4 C530.5 363.4 542.8 364.4 553.3 366.4 C563.8 368.4 575.7 371.4 584.9 374.3 C594.1 377.2 602.1 379.3 608.7 383.8 C615.3 388.3 620.7 395.4 624.5 401.2 C628.3 407.0 630.0 412.1 631.6 418.6 C633.2 425.1 633.6 433.1 634.0 440.0 C634.4 446.9 634.8 453.3 634.0 460.0 C633.2 466.7 631.5 473.3 629.0 480.0 C626.5 486.7 622.5 493.0 619.0 500.0 C615.5 507.0 611.5 514.5 608.0 522.0 C604.5 529.5 602.0 538.0 598.0 545.0 C594.0 552.0 588.7 559.2 584.0 564.0 C579.3 568.8 574.5 572.0 570.0 573.5 C565.5 575.0 562.3 573.8 557.3 572.8 C552.3 571.8 545.6 569.9 539.8 567.5 C534.0 565.1 528.2 562.1 522.4 558.2 C516.6 554.3 510.7 549.1 504.9 544.2 C499.1 539.4 493.3 533.4 487.5 529.1 C481.7 524.8 475.4 522.8 470.0 518.6 C464.6 514.4 460.9 508.9 455.3 504.0 C449.7 499.1 441.9 493.8 436.2 489.0 C430.5 484.2 425.1 480.1 421.0 475.0 C416.9 469.9 413.6 464.1 411.5 458.1 C409.4 452.1 408.6 445.5 408.6 439.1Z" stroke="#93c4df"/>
<path d="M421.0 439.1 C421.0 430.6 422.9 414.8 424.8 407.0 C426.7 399.2 429.0 396.6 432.2 392.2 C435.4 387.8 439.6 383.3 444.0 380.3 C448.4 377.3 452.6 375.8 458.8 374.4 C465.0 373.0 474.1 372.6 481.0 372.2 C487.9 371.8 493.2 371.8 500.0 372.2 C506.8 372.6 512.7 373.3 521.6 374.3 C530.5 375.3 542.8 376.7 553.3 378.3 C563.8 379.9 576.5 381.8 584.9 383.8 C593.3 385.8 598.6 386.9 603.9 390.1 C609.2 393.3 613.4 398.1 616.6 402.8 C619.8 407.6 621.6 412.8 622.9 418.6 C624.2 424.4 624.7 430.9 624.5 437.6 C624.3 444.3 623.2 452.2 621.5 459.0 C619.8 465.8 616.9 471.4 614.0 478.1 C611.1 484.8 607.2 492.0 604.0 499.0 C600.8 506.0 597.6 513.0 595.0 520.0 C592.4 527.0 590.6 535.0 588.1 541.0 C585.6 547.0 583.2 552.4 580.0 556.0 C576.8 559.6 573.8 561.2 569.0 562.5 C564.2 563.8 557.3 564.7 551.5 564.0 C545.7 563.3 539.8 561.1 534.0 558.2 C528.2 555.3 521.8 550.9 516.6 546.6 C511.4 542.3 507.5 537.3 502.6 532.6 C497.8 527.9 492.9 522.3 487.5 518.6 C482.1 514.9 476.3 515.1 470.0 510.5 C463.7 505.9 455.6 497.0 449.6 491.0 C443.7 485.0 438.4 480.0 434.3 474.5 C430.2 469.0 427.0 464.0 424.8 458.1 C422.6 452.2 421.0 447.6 421.0 439.1Z" stroke="#68abd5"/>
<path d="M432.4 439.1 C432.0 431.9 432.2 419.5 433.7 412.9 C435.1 406.3 438.2 403.3 441.1 399.6 C444.1 395.9 447.2 393.1 451.4 390.7 C455.6 388.3 460.5 386.6 466.2 385.5 C471.9 384.4 479.9 384.0 485.5 384.0 C491.1 384.0 495.3 384.9 500.0 385.5 C504.7 386.1 507.5 386.6 513.7 387.8 C520.0 389.0 529.6 391.7 537.5 392.5 C545.4 393.3 553.3 392.2 561.2 392.5 C569.1 392.8 578.3 392.9 584.9 394.1 C591.5 395.3 596.3 396.6 600.8 399.6 C605.3 402.6 609.4 407.6 611.8 412.3 C614.2 417.1 614.7 422.8 615.0 428.1 C615.3 433.4 614.7 438.8 613.4 443.9 C612.1 449.0 609.8 453.3 607.1 459.0 C604.4 464.7 600.0 471.8 597.0 478.1 C594.0 484.5 591.1 490.8 589.0 497.1 C586.9 503.5 585.5 509.7 584.3 516.2 C583.1 522.7 583.4 530.5 582.0 536.0 C580.6 541.5 578.8 545.8 576.0 549.0 C573.2 552.2 568.7 554.2 565.0 555.5 C561.3 556.8 558.4 557.3 553.8 557.0 C549.2 556.7 542.7 555.7 537.5 553.6 C532.3 551.5 526.9 547.7 522.4 544.2 C517.9 540.7 514.6 536.9 510.7 532.6 C506.8 528.3 503.0 522.7 499.1 518.6 C495.2 514.5 491.8 511.0 487.5 508.1 C483.2 505.2 478.2 504.2 473.5 501.2 C468.8 498.2 463.6 494.9 459.0 490.0 C454.4 485.1 449.6 477.6 445.8 472.0 C442.0 466.4 438.4 461.7 436.2 456.2 C434.0 450.7 432.8 446.3 432.4 439.1Z" stroke="#4090c5"/>
<path d="M442.9 439.1 C442.5 432.6 443.8 423.9 445.5 418.8 C447.2 413.7 449.4 411.3 452.9 408.5 C456.3 405.7 461.3 403.3 466.2 401.8 C471.1 400.3 478.5 399.7 482.5 399.6 C486.5 399.5 486.1 400.1 490.0 401.2 C493.9 402.3 501.9 403.6 505.8 406.0 C509.8 408.4 511.5 411.7 513.7 415.4 C516.0 419.1 518.1 423.9 519.3 428.1 C520.5 432.3 519.9 435.8 520.9 440.8 C521.9 445.8 522.6 453.1 525.0 458.0 C527.4 462.9 530.8 466.5 535.0 470.0 C539.2 473.5 545.3 475.8 550.0 479.0 C554.7 482.2 559.7 485.0 563.0 489.0 C566.3 493.0 568.4 498.2 570.0 503.0 C571.6 507.8 572.4 512.2 572.4 517.5 C572.4 522.8 571.6 530.4 570.1 534.9 C568.6 539.4 565.8 542.2 563.1 544.2 C560.4 546.2 557.3 546.9 553.8 547.1 C550.3 547.3 546.5 547.0 542.2 545.4 C537.9 543.8 532.5 540.6 528.2 537.3 C523.9 534.0 520.5 529.9 516.6 525.6 C512.7 521.3 508.4 515.9 504.9 511.6 C501.4 507.3 499.1 503.6 495.6 500.0 C492.1 496.4 488.3 492.7 484.0 490.0 C479.7 487.3 474.1 486.5 470.0 483.8 C465.9 481.1 462.8 478.3 459.1 474.0 C455.4 469.7 450.4 463.9 447.7 458.1 C445.0 452.3 443.3 445.7 442.9 439.1Z" stroke="#2070b4"/>
<path d="M550.1 423.4 C550.6 419.8 552.3 415.9 556.0 413.0 C559.7 410.1 566.2 406.4 572.3 406.0 C578.4 405.6 587.7 407.0 592.8 410.7 C597.9 414.4 602.0 423.2 603.1 428.1 C604.2 433.0 601.7 436.7 599.5 440.0 C597.3 443.3 593.6 446.1 590.0 447.8 C586.4 449.6 582.3 451.0 578.0 450.5 C573.7 450.0 568.5 447.7 564.4 445.0 C560.3 442.3 555.7 438.0 553.3 434.4 C550.9 430.8 549.6 427.0 550.1 423.4Z" stroke="#2070b4"/>
<path d="M457.4 440.0 C457.4 436.0 458.9 431.1 461.0 428.0 C463.1 424.9 466.7 422.5 470.0 421.5 C473.3 420.5 477.8 420.6 481.0 422.0 C484.2 423.4 487.0 426.7 489.0 430.0 C491.0 433.3 492.7 438.2 492.9 442.0 C493.1 445.8 492.0 449.9 490.0 453.0 C488.0 456.1 484.3 459.4 481.0 460.5 C477.7 461.6 473.3 460.9 470.0 459.5 C466.7 458.1 463.1 455.2 461.0 452.0 C458.9 448.8 457.4 444.0 457.4 440.0Z" stroke="#0a519b"/>
<path d="M525.2 514.3 C525.4 511.3 526.1 507.2 528.0 505.0 C529.9 502.8 533.4 501.0 536.7 501.0 C540.0 501.0 544.7 502.1 548.0 505.0 C551.3 507.9 555.7 514.1 556.7 518.1 C557.7 522.1 555.9 526.4 554.0 529.0 C552.1 531.6 548.7 533.3 545.2 533.5 C541.7 533.7 536.0 531.8 533.0 530.0 C530.0 528.2 528.3 525.6 527.0 523.0 C525.7 520.4 525.0 517.3 525.2 514.3Z" stroke="#0a519b"/>
</g>
<g fill="none" stroke-width="2.8" stroke-linejoin="round">
<path d="M446.0 297.2 C446.2 290.6 446.3 282.2 448.0 275.2 C449.7 268.2 452.3 260.8 456.0 255.1 C459.7 249.4 464.4 245.1 470.1 241.1 C475.8 237.1 482.4 233.8 490.1 231.1 C497.8 228.4 508.5 226.6 516.2 225.1 C523.9 223.6 530.9 222.8 536.2 222.1 C541.5 221.4 543.5 221.5 548.2 220.7 C552.9 219.9 558.3 219.0 564.3 217.1 C570.3 215.2 577.6 211.7 584.3 209.0 C591.0 206.3 596.7 203.1 604.3 201.0 C611.9 198.9 621.4 197.4 630.0 196.5 C638.6 195.6 647.4 196.0 655.9 195.6 C664.4 195.2 672.8 195.6 681.3 194.3 C689.8 193.0 698.2 190.5 706.6 188.0 C715.0 185.5 723.5 181.3 731.9 179.1 C740.3 176.9 750.5 175.2 757.2 174.6 C764.0 174.0 767.3 173.9 772.4 175.3 C777.5 176.7 783.6 179.1 787.6 182.9 C791.6 186.7 794.6 193.0 796.5 198.1 C798.4 203.2 799.4 208.1 799.0 213.3 C798.6 218.5 796.4 223.5 794.3 229.1 C792.2 234.7 789.3 240.8 786.3 247.1 C783.3 253.4 779.3 260.8 776.3 267.2 C773.3 273.6 770.6 278.9 768.3 285.2 C766.0 291.5 763.6 299.4 762.3 305.2 C761.0 311.0 761.4 313.8 760.6 320.0 C759.8 326.2 758.2 334.8 757.3 342.2 C756.4 349.6 755.6 356.9 755.0 364.3 C754.4 371.7 755.5 379.1 753.9 386.5 C752.2 393.9 749.5 402.0 745.1 408.6 C740.7 415.2 734.0 421.5 727.4 426.3 C720.8 431.1 712.6 434.6 705.2 437.4 C697.8 440.2 691.1 442.1 683.0 443.0 C674.9 443.9 666.5 443.6 656.5 443.0 C646.5 442.4 634.3 440.9 623.2 439.6 C612.1 438.3 599.9 436.7 590.0 435.0 C580.1 433.3 572.3 431.8 564.0 429.5 C555.7 427.2 547.3 424.1 540.0 421.0 C532.7 417.9 526.7 414.7 520.0 411.0 C513.3 407.3 506.0 404.0 500.0 399.0 C494.0 394.0 489.0 387.3 484.0 381.0 C479.0 374.7 474.5 367.3 470.0 361.0 C465.5 354.7 460.3 348.2 457.0 343.0 C453.7 337.8 451.7 334.7 450.0 330.0 C448.3 325.3 447.7 320.5 447.0 315.0 C446.3 309.5 445.8 303.8 446.0 297.2Z" stroke="#fde0c2"/>
<path d="M470.1 297.2 C469.8 290.6 469.8 281.5 471.1 275.2 C472.4 268.9 474.6 263.6 478.1 259.2 C481.6 254.8 486.8 251.6 492.1 249.1 C497.4 246.6 503.8 245.1 510.1 244.1 C516.5 243.1 523.9 243.4 530.2 243.1 C536.6 242.8 542.5 242.8 548.2 242.1 C553.9 241.4 558.3 240.9 564.3 239.1 C570.3 237.3 577.6 233.6 584.3 231.1 C591.0 228.6 598.7 225.5 604.3 224.1 C609.9 222.7 612.0 222.8 618.0 222.5 C624.0 222.2 633.0 221.7 640.0 222.1 C647.0 222.5 653.4 223.9 660.1 225.1 C666.8 226.3 674.8 228.3 680.1 229.1 C685.4 229.9 688.1 230.9 692.1 230.1 C696.1 229.3 699.5 226.8 704.2 224.1 C708.9 221.4 714.9 217.1 720.2 214.1 C725.5 211.1 731.2 207.8 736.2 206.0 C741.2 204.2 746.3 203.2 750.3 203.0 C754.3 202.8 757.8 203.0 760.3 205.0 C762.8 207.0 765.0 210.8 765.3 215.1 C765.6 219.4 764.8 226.1 762.0 231.1 C759.2 236.1 753.3 241.1 748.3 245.1 C743.3 249.1 736.9 252.2 732.2 255.1 C727.5 257.9 722.5 259.5 720.2 262.2 C717.9 264.9 717.2 267.4 718.2 271.2 C719.2 275.0 723.5 280.2 726.2 285.2 C728.9 290.2 732.2 296.2 734.2 301.2 C736.2 306.2 737.5 309.7 738.2 315.3 C738.9 320.9 738.6 330.4 738.5 334.9 C738.4 339.4 737.7 337.3 737.3 342.2 C736.9 347.1 737.1 356.2 736.2 364.3 C735.3 372.4 734.8 383.5 731.8 390.9 C728.8 398.3 724.4 403.8 718.5 408.6 C712.6 413.4 704.8 417.1 696.3 419.7 C687.8 422.3 677.8 423.4 667.5 424.1 C657.2 424.8 645.5 424.6 634.3 424.1 C623.0 423.6 609.9 422.1 600.0 421.2 C590.1 420.3 582.9 419.6 575.0 418.5 C567.1 417.4 560.8 416.8 552.7 414.4 C544.6 411.9 533.4 408.0 526.4 403.8 C519.4 399.6 514.9 394.4 510.5 389.1 C506.1 383.8 504.1 378.4 500.0 372.2 C495.9 366.0 489.5 358.2 486.0 352.0 C482.5 345.8 481.2 341.2 479.0 335.0 C476.8 328.8 474.5 321.3 473.0 315.0 C471.5 308.7 470.4 303.8 470.1 297.2Z" stroke="#fdc896"/>
<path d="M491.1 305.2 C489.6 297.4 489.6 291.2 490.1 285.2 C490.6 279.2 491.4 273.0 494.1 269.2 C496.8 265.4 501.1 263.6 506.1 262.2 C511.1 260.8 517.2 261.1 524.2 260.8 C531.2 260.5 540.9 261.0 548.2 260.2 C555.6 259.4 561.6 257.8 568.3 256.1 C575.0 254.4 581.3 251.8 588.3 250.1 C595.3 248.4 603.3 246.9 610.3 246.1 C617.2 245.3 625.0 244.5 630.0 245.1 C635.0 245.7 635.0 246.3 640.0 249.5 C645.0 252.7 654.7 260.0 660.0 264.0 C665.3 268.0 667.7 270.1 672.0 273.5 C676.3 276.9 680.6 280.6 686.0 284.5 C691.4 288.4 699.2 293.1 704.2 297.2 C709.2 301.3 713.2 304.6 716.2 309.3 C719.2 314.0 721.1 320.6 722.2 325.3 C723.3 330.0 722.6 331.9 722.9 337.7 C723.2 343.5 724.4 352.9 724.0 359.9 C723.6 366.9 723.1 373.9 720.7 379.8 C718.3 385.7 714.4 391.2 709.6 395.3 C704.8 399.4 698.9 402.0 691.9 404.2 C684.9 406.4 677.1 407.5 667.5 408.6 C657.9 409.7 645.5 410.4 634.3 410.8 C623.0 411.2 609.9 411.6 600.0 411.2 C590.1 410.8 582.9 409.7 575.0 408.5 C567.1 407.3 560.1 406.7 552.7 403.8 C545.3 400.9 536.8 396.5 530.6 391.2 C524.5 385.9 519.5 378.9 515.8 372.2 C512.1 365.5 511.2 357.8 508.4 351.1 C505.6 344.4 501.9 339.6 499.0 332.0 C496.1 324.4 492.6 313.0 491.1 305.2Z" stroke="#fdb070"/>
<path d="M515.2 309.3 C515.2 303.3 515.4 299.1 517.2 295.2 C519.0 291.3 521.7 288.5 526.2 286.2 C530.7 283.9 537.9 282.9 544.2 281.2 C550.6 279.5 557.6 278.2 564.3 276.2 C571.0 274.2 577.6 271.0 584.3 269.2 C591.0 267.4 596.7 265.7 604.3 265.2 C611.9 264.7 624.0 264.9 630.0 266.2 C636.0 267.5 635.0 269.7 640.0 273.2 C645.0 276.7 653.4 282.5 660.1 287.2 C666.8 291.9 674.1 296.8 680.1 301.2 C686.1 305.6 691.9 309.3 696.2 313.3 C700.6 317.3 704.0 321.7 706.2 325.3 C708.4 328.9 708.8 331.3 709.5 334.9 C710.2 338.4 710.7 341.7 710.7 346.6 C710.7 351.5 711.2 358.8 709.6 364.3 C708.0 369.8 705.2 375.4 700.8 379.8 C696.4 384.2 690.4 387.9 683.0 390.9 C675.6 393.8 666.5 395.8 656.5 397.5 C646.5 399.2 632.6 400.0 623.2 400.9 C613.8 401.8 610.0 403.2 600.0 402.8 C590.0 402.4 572.9 400.9 563.3 398.6 C553.7 396.3 548.0 393.5 542.2 389.1 C536.4 384.7 532.0 378.5 528.5 372.2 C525.0 365.9 523.0 358.0 521.1 351.1 C519.2 344.2 518.3 338.0 517.3 331.0 C516.3 324.0 515.2 315.3 515.2 309.3Z" stroke="#fd9a4e"/>
<path d="M536.2 334.9 C537.2 329.9 538.2 325.6 540.2 321.3 C542.2 317.0 544.2 313.0 548.2 309.3 C552.2 305.6 558.3 302.6 564.3 299.2 C570.3 295.8 577.6 291.9 584.3 289.2 C591.0 286.5 596.7 284.4 604.3 283.2 C611.9 282.0 623.2 281.1 630.0 282.2 C636.8 283.3 639.7 286.5 645.0 290.0 C650.3 293.5 656.2 298.3 662.0 303.0 C667.8 307.7 674.7 312.9 680.0 318.0 C685.3 323.1 691.3 328.2 694.0 333.3 C696.7 338.4 697.0 343.6 696.3 348.8 C695.6 354.0 693.4 359.5 689.7 364.3 C686.0 369.1 680.5 373.9 674.2 377.6 C667.9 381.3 660.5 384.3 652.0 386.5 C643.5 388.7 631.9 389.5 623.2 390.9 C614.5 392.3 608.2 394.2 600.0 394.8 C591.8 395.4 581.7 395.6 573.8 394.3 C565.9 393.0 558.3 390.7 552.7 387.0 C547.1 383.3 543.2 378.2 540.1 372.2 C537.0 366.2 534.9 357.3 534.3 351.1 C533.6 344.9 535.2 339.9 536.2 334.9Z" stroke="#f8842f"/>
<path d="M549.2 334.9 C550.8 330.3 552.7 327.2 556.2 323.3 C559.7 319.4 564.6 315.0 570.3 311.3 C576.0 307.6 583.6 303.7 590.3 301.2 C597.0 298.7 603.7 297.0 610.3 296.2 C616.9 295.4 624.2 295.1 630.0 296.2 C635.8 297.3 639.5 299.4 645.0 303.0 C650.5 306.6 657.5 312.8 663.0 318.0 C668.5 323.2 675.0 329.6 678.0 334.0 C681.0 338.4 681.4 340.1 680.8 344.4 C680.2 348.7 678.2 355.5 674.2 359.9 C670.2 364.3 663.1 367.7 656.5 371.0 C649.9 374.3 641.7 377.6 634.3 379.8 C626.9 382.0 617.9 383.0 612.2 384.2 C606.5 385.4 604.6 386.7 600.0 387.2 C595.4 387.7 590.2 387.8 584.4 387.0 C578.6 386.2 570.8 385.2 565.4 382.7 C560.0 380.2 554.9 377.5 551.7 372.2 C548.5 366.9 546.8 357.3 546.4 351.1 C546.0 344.9 547.6 339.5 549.2 334.9Z" stroke="#ee6d1a"/>
<path d="M560.1 350.6 C560.2 346.7 559.8 341.1 561.6 336.4 C563.4 331.7 567.1 326.0 571.1 322.2 C575.1 318.4 580.1 315.5 585.4 313.4 C590.7 311.3 597.3 310.0 602.8 309.5 C608.3 309.0 613.3 309.2 618.6 310.3 C623.9 311.4 629.1 313.0 634.4 315.8 C639.7 318.6 645.8 323.2 650.3 326.9 C654.8 330.6 658.9 334.3 661.3 338.0 C663.7 341.7 664.8 345.2 664.5 349.1 C664.2 353.1 662.9 358.0 659.7 361.7 C656.5 365.4 651.3 368.6 645.5 371.2 C639.7 373.8 632.0 376.1 624.9 377.5 C617.8 378.9 609.9 379.9 602.8 379.9 C595.7 379.9 588.0 379.2 582.2 377.5 C576.4 375.8 571.5 372.5 568.0 369.6 C564.5 366.7 562.2 363.3 560.9 360.1 C559.6 356.9 560.0 354.6 560.1 350.6Z" stroke="#de570c"/>
<path d="M573.5 350.6 C573.8 346.8 575.2 340.2 577.5 336.4 C579.8 332.6 583.6 329.9 587.0 327.7 C590.4 325.5 594.3 324.3 598.0 323.4 C601.7 322.5 605.1 322.0 609.1 322.2 C613.1 322.4 617.8 322.9 621.8 324.5 C625.8 326.1 629.4 328.8 632.8 331.6 C636.2 334.4 640.4 338.5 642.3 341.1 C644.1 343.8 644.4 344.9 643.9 347.5 C643.4 350.1 641.8 354.1 639.2 357.0 C636.6 359.9 632.3 362.8 628.1 364.9 C623.9 367.0 618.6 368.7 613.9 369.6 C609.1 370.5 604.4 370.9 599.6 370.4 C594.9 369.9 589.4 368.4 585.4 366.5 C581.4 364.6 577.9 361.9 575.9 359.3 C573.9 356.7 573.2 354.4 573.5 350.6Z" stroke="#c14506"/>
<path d="M596.5 348.0 C596.2 346.2 597.6 344.6 599.0 343.5 C600.4 342.4 603.0 341.8 605.0 341.5 C607.0 341.2 609.2 341.2 611.0 342.0 C612.8 342.8 615.4 344.4 616.0 346.0 C616.6 347.6 615.8 350.1 614.5 351.5 C613.2 352.9 610.2 354.1 608.0 354.5 C605.8 354.9 602.9 355.1 601.0 354.0 C599.1 352.9 596.8 349.8 596.5 348.0Z" stroke="#a03603"/>
</g>
<line x1="132.9" y1="824.6" x2="147.2" y2="824.6" stroke="#262626" stroke-width="2.7" stroke-linecap="butt"/>
<line x1="132.9" y1="709.9" x2="147.2" y2="709.9" stroke="#262626" stroke-width="2.7" stroke-linecap="butt"/>
<line x1="132.9" y1="595.2" x2="147.2" y2="595.2" stroke="#262626" stroke-width="2.7" stroke-linecap="butt"/>
<line x1="132.9" y1="480.5" x2="147.2" y2="480.5" stroke="#262626" stroke-width="2.7" stroke-linecap="butt"/>
<line x1="132.9" y1="365.8" x2="147.2" y2="365.8" stroke="#262626" stroke-width="2.7" stroke-linecap="butt"/>
<line x1="132.9" y1="251.1" x2="147.2" y2="251.1" stroke="#262626" stroke-width="2.7" stroke-linecap="butt"/>
<line x1="132.9" y1="136.4" x2="147.2" y2="136.4" stroke="#262626" stroke-width="2.7" stroke-linecap="butt"/>
<line x1="147.4" y1="824.8" x2="147.4" y2="839" stroke="#262626" stroke-width="2.7"/>
<line x1="281.1" y1="824.8" x2="281.1" y2="839" stroke="#262626" stroke-width="2.7"/>
<line x1="414.7" y1="824.8" x2="414.7" y2="839" stroke="#262626" stroke-width="2.7"/>
<line x1="548.4" y1="824.8" x2="548.4" y2="839" stroke="#262626" stroke-width="2.7"/>
<line x1="682.0" y1="824.8" x2="682.0" y2="839" stroke="#262626" stroke-width="2.7"/>
<line x1="815.7" y1="824.8" x2="815.7" y2="839" stroke="#262626" stroke-width="2.7"/>
<text x="123.5" y="840.9" text-anchor="end" class="tl" textLength="66.5" lengthAdjust="spacingAndGlyphs">0.0</text>
<text x="123.5" y="726.2" text-anchor="end" class="tl" textLength="66.5" lengthAdjust="spacingAndGlyphs">0.2</text>
<text x="123.5" y="611.5" text-anchor="end" class="tl" textLength="66.5" lengthAdjust="spacingAndGlyphs">0.4</text>
<text x="123.5" y="496.8" text-anchor="end" class="tl" textLength="66.5" lengthAdjust="spacingAndGlyphs">0.6</text>
<text x="123.5" y="382.1" text-anchor="end" class="tl" textLength="66.5" lengthAdjust="spacingAndGlyphs">0.8</text>
<text x="123.5" y="267.4" text-anchor="end" class="tl" textLength="66.5" lengthAdjust="spacingAndGlyphs">1.0</text>
<text x="123.5" y="152.7" text-anchor="end" class="tl" textLength="66.5" lengthAdjust="spacingAndGlyphs">1.2</text>
<text x="147.4" y="881.2" text-anchor="middle" class="tl" textLength="66.5" lengthAdjust="spacingAndGlyphs">0.0</text>
<text x="281.1" y="881.2" text-anchor="middle" class="tl" textLength="66.5" lengthAdjust="spacingAndGlyphs">0.2</text>
<text x="414.7" y="881.2" text-anchor="middle" class="tl" textLength="66.5" lengthAdjust="spacingAndGlyphs">0.4</text>
<text x="548.4" y="881.2" text-anchor="middle" class="tl" textLength="66.5" lengthAdjust="spacingAndGlyphs">0.6</text>
<text x="682.0" y="881.2" text-anchor="middle" class="tl" textLength="66.5" lengthAdjust="spacingAndGlyphs">0.8</text>
<text x="815.7" y="881.2" text-anchor="middle" class="tl" textLength="66.5" lengthAdjust="spacingAndGlyphs">1.0</text>
<text x="121.8" y="934.4" class="al" textLength="661.5" lengthAdjust="spacingAndGlyphs">Cognitive/Sleep disturbance</text>
<text transform="translate(36.2 724.3) rotate(-90)" x="0" y="0" class="al" textLength="428.5" lengthAdjust="spacingAndGlyphs">Motor disturbance</text>
<path d="M795 920.1 H826" stroke="#262626" stroke-width="3.5" fill="none"/>
<path d="M818.3 911.9 L826.4 920.1 L818.3 928.3" stroke="#262626" stroke-width="3.5" fill="none" stroke-linejoin="miter"/>
<path d="M21.5 283.4 V252" stroke="#262626" stroke-width="3.5" fill="none"/>
<path d="M13.3 259.9 L21.5 251.8 L29.7 259.9" stroke="#262626" stroke-width="3.5" fill="none" stroke-linejoin="miter"/>
<defs><clipPath id="ct"><rect x="147.4" y="0" width="668.4" height="112.5"/></clipPath><clipPath id="cr"><rect x="839.3" y="136" width="120" height="689"/></clipPath></defs>
<g clip-path="url(#ct)">
<rect x="264.9" y="108.6" width="12.8" height="4.7" fill="#c44e52" fill-opacity="0.4" stroke="#fff" stroke-width="1.5"/>
<rect x="277.7" y="108.6" width="12.9" height="4.7" fill="#c44e52" fill-opacity="0.4" stroke="#fff" stroke-width="1.5"/>
<rect x="290.6" y="108.6" width="12.9" height="4.7" fill="#c44e52" fill-opacity="0.4" stroke="#fff" stroke-width="1.5"/>
<rect x="303.5" y="72.7" width="12.8" height="40.6" fill="#c44e52" fill-opacity="0.4" stroke="#fff" stroke-width="1.5"/>
<rect x="316.3" y="73.0" width="12.9" height="40.3" fill="#c44e52" fill-opacity="0.4" stroke="#fff" stroke-width="1.5"/>
<rect x="329.2" y="73.0" width="12.9" height="40.3" fill="#c44e52" fill-opacity="0.4" stroke="#fff" stroke-width="1.5"/>
<rect x="342.1" y="44.0" width="12.8" height="69.3" fill="#c44e52" fill-opacity="0.4" stroke="#fff" stroke-width="1.5"/>
<rect x="354.9" y="44.3" width="12.9" height="69.0" fill="#c44e52" fill-opacity="0.4" stroke="#fff" stroke-width="1.5"/>
<rect x="367.8" y="44.3" width="12.8" height="69.0" fill="#c44e52" fill-opacity="0.4" stroke="#fff" stroke-width="1.5"/>
<rect x="380.6" y="38.0" width="12.9" height="75.3" fill="#c44e52" fill-opacity="0.4" stroke="#fff" stroke-width="1.5"/>
<rect x="393.5" y="34.1" width="12.9" height="79.2" fill="#c44e52" fill-opacity="0.4" stroke="#fff" stroke-width="1.5"/>
<rect x="406.4" y="34.1" width="12.9" height="79.2" fill="#c44e52" fill-opacity="0.4" stroke="#fff" stroke-width="1.5"/>
<rect x="419.3" y="46.9" width="12.9" height="66.4" fill="#c44e52" fill-opacity="0.4" stroke="#fff" stroke-width="1.5"/>
<rect x="432.2" y="46.9" width="12.9" height="66.4" fill="#c44e52" fill-opacity="0.4" stroke="#fff" stroke-width="1.5"/>
<rect x="445.1" y="46.9" width="12.9" height="66.4" fill="#c44e52" fill-opacity="0.4" stroke="#fff" stroke-width="1.5"/>
<rect x="458.0" y="60.0" width="12.9" height="53.3" fill="#c44e52" fill-opacity="0.4" stroke="#fff" stroke-width="1.5"/>
<rect x="470.9" y="60.0" width="12.9" height="53.3" fill="#c44e52" fill-opacity="0.4" stroke="#fff" stroke-width="1.5"/>
<rect x="483.8" y="62.0" width="12.9" height="51.3" fill="#c44e52" fill-opacity="0.4" stroke="#fff" stroke-width="1.5"/>
<rect x="496.7" y="72.0" width="12.9" height="41.3" fill="#c44e52" fill-opacity="0.4" stroke="#fff" stroke-width="1.5"/>
<rect x="509.6" y="72.0" width="12.9" height="41.3" fill="#c44e52" fill-opacity="0.4" stroke="#fff" stroke-width="1.5"/>
<rect x="522.5" y="72.0" width="12.9" height="41.3" fill="#c44e52" fill-opacity="0.4" stroke="#fff" stroke-width="1.5"/>
<rect x="535.4" y="90.6" width="12.9" height="22.7" fill="#c44e52" fill-opacity="0.4" stroke="#fff" stroke-width="1.5"/>
<rect x="548.3" y="90.6" width="12.9" height="22.7" fill="#c44e52" fill-opacity="0.4" stroke="#fff" stroke-width="1.5"/>
<rect x="561.2" y="90.6" width="12.9" height="22.7" fill="#c44e52" fill-opacity="0.4" stroke="#fff" stroke-width="1.5"/>
<rect x="574.1" y="102.0" width="12.9" height="11.3" fill="#c44e52" fill-opacity="0.4" stroke="#fff" stroke-width="1.5"/>
<rect x="587.0" y="104.0" width="12.9" height="9.3" fill="#c44e52" fill-opacity="0.4" stroke="#fff" stroke-width="1.5"/>
<rect x="599.9" y="106.0" width="12.9" height="7.3" fill="#c44e52" fill-opacity="0.4" stroke="#fff" stroke-width="1.5"/>
<rect x="612.8" y="108.0" width="12.9" height="5.3" fill="#c44e52" fill-opacity="0.4" stroke="#fff" stroke-width="1.5"/>
<rect x="625.7" y="108.6" width="12.9" height="4.7" fill="#c44e52" fill-opacity="0.4" stroke="#fff" stroke-width="1.5"/>
<rect x="638.6" y="109.0" width="12.9" height="4.3" fill="#c44e52" fill-opacity="0.4" stroke="#fff" stroke-width="1.5"/>
<rect x="651.5" y="109.5" width="12.9" height="3.8" fill="#c44e52" fill-opacity="0.4" stroke="#fff" stroke-width="1.5"/>
<rect x="664.4" y="109.5" width="12.9" height="3.8" fill="#c44e52" fill-opacity="0.4" stroke="#fff" stroke-width="1.5"/>
<rect x="677.3" y="110.0" width="12.9" height="3.3" fill="#c44e52" fill-opacity="0.4" stroke="#fff" stroke-width="1.5"/>
<rect x="278.2" y="92.2" width="37.8" height="21.1" fill="#55a868" fill-opacity="0.4" stroke="#fff" stroke-width="1.5"/>
<rect x="316.0" y="73.0" width="38.3" height="40.3" fill="#55a868" fill-opacity="0.4" stroke="#fff" stroke-width="1.5"/>
<rect x="354.3" y="22.1" width="36.3" height="91.2" fill="#55a868" fill-opacity="0.4" stroke="#fff" stroke-width="1.5"/>
<rect x="390.6" y="28.0" width="38.6" height="85.3" fill="#55a868" fill-opacity="0.4" stroke="#fff" stroke-width="1.5"/>
<rect x="429.2" y="52.4" width="38.7" height="60.9" fill="#55a868" fill-opacity="0.4" stroke="#fff" stroke-width="1.5"/>
<rect x="467.9" y="22.3" width="35.1" height="91.0" fill="#55a868" fill-opacity="0.4" stroke="#fff" stroke-width="1.5"/>
<rect x="503.0" y="101.7" width="38.0" height="11.6" fill="#55a868" fill-opacity="0.4" stroke="#fff" stroke-width="1.5"/>
<rect x="541.0" y="108.5" width="38.0" height="4.8" fill="#55a868" fill-opacity="0.4" stroke="#fff" stroke-width="1.5"/>
<rect x="372.5" y="99.3" width="38.3" height="14.0" fill="#4c72b0" fill-opacity="0.4" stroke="#fff" stroke-width="1.5"/>
<rect x="410.8" y="80.4" width="38.3" height="32.9" fill="#4c72b0" fill-opacity="0.4" stroke="#fff" stroke-width="1.5"/>
<rect x="449.1" y="39.3" width="38.3" height="74.0" fill="#4c72b0" fill-opacity="0.4" stroke="#fff" stroke-width="1.5"/>
<rect x="487.4" y="50.0" width="38.3" height="63.3" fill="#4c72b0" fill-opacity="0.4" stroke="#fff" stroke-width="1.5"/>
<rect x="525.7" y="25.0" width="38.3" height="88.3" fill="#4c72b0" fill-opacity="0.4" stroke="#fff" stroke-width="1.5"/>
<rect x="564.0" y="39.2" width="38.3" height="74.1" fill="#4c72b0" fill-opacity="0.4" stroke="#fff" stroke-width="1.5"/>
<rect x="602.3" y="78.1" width="38.3" height="35.2" fill="#4c72b0" fill-opacity="0.4" stroke="#fff" stroke-width="1.5"/>
<rect x="640.6" y="103.3" width="38.3" height="10.0" fill="#4c72b0" fill-opacity="0.4" stroke="#fff" stroke-width="1.5"/>
<rect x="678.9" y="108.3" width="38.3" height="5.0" fill="#4c72b0" fill-opacity="0.4" stroke="#fff" stroke-width="1.5"/>
<rect x="493.8" y="53.7" width="43.7" height="59.6" fill="#ffa500" fill-opacity="0.4" stroke="#fff" stroke-width="1.5"/>
<rect x="537.5" y="83.5" width="45.0" height="29.8" fill="#ffa500" fill-opacity="0.4" stroke="#fff" stroke-width="1.5"/>
<rect x="582.5" y="1.0" width="43.9" height="112.3" fill="#ffa500" fill-opacity="0.4" stroke="#fff" stroke-width="1.5"/>
<rect x="626.4" y="61.1" width="45.2" height="52.2" fill="#ffa500" fill-opacity="0.4" stroke="#fff" stroke-width="1.5"/>
<rect x="671.6" y="61.1" width="45.2" height="52.2" fill="#ffa500" fill-opacity="0.4" stroke="#fff" stroke-width="1.5"/>
<rect x="716.8" y="83.9" width="44.7" height="29.4" fill="#ffa500" fill-opacity="0.4" stroke="#fff" stroke-width="1.5"/>
<rect x="761.5" y="106.3" width="44.5" height="7.0" fill="#ffa500" fill-opacity="0.4" stroke="#fff" stroke-width="1.5"/>
<path d="M205.0 111.2 C208.3 111.1 219.2 111.0 225.0 110.8 C230.8 110.6 234.2 110.4 240.0 110.0 C245.8 109.6 253.3 109.5 260.0 108.4 C266.7 107.3 273.3 105.9 280.0 103.4 C286.7 101.0 293.3 97.8 300.0 93.7 C306.7 89.6 313.3 84.3 320.0 79.0 C326.7 73.7 335.0 66.5 340.0 62.0 C345.0 57.5 346.7 55.1 350.0 52.3 C353.3 49.5 356.7 47.4 360.0 45.3 C363.3 43.2 366.7 41.0 370.0 39.5 C373.3 38.0 376.7 37.2 380.0 36.5 C383.3 35.8 386.7 35.6 390.0 35.5 C393.3 35.4 396.7 35.5 400.0 35.9 C403.3 36.3 406.7 37.0 410.0 37.7 C413.3 38.4 416.7 39.2 420.0 40.1 C423.3 41.0 426.7 42.2 430.0 43.2 C433.3 44.2 436.7 44.9 440.0 46.0 C443.3 47.1 446.7 48.7 450.0 49.9 C453.3 51.1 455.0 51.4 460.0 53.2 C465.0 55.0 473.3 58.5 480.0 60.6 C486.7 62.7 493.3 64.2 500.0 65.9 C506.7 67.7 515.0 69.6 520.0 71.1 C525.0 72.6 526.7 73.4 530.0 75.0 C533.3 76.6 536.7 78.5 540.0 80.6 C543.3 82.7 545.0 85.2 550.0 87.8 C555.0 90.4 563.3 94.0 570.0 96.2 C576.7 98.5 583.3 100.0 590.0 101.3 C596.7 102.6 603.3 103.5 610.0 104.3 C616.7 105.1 623.3 105.5 630.0 106.0 C636.7 106.5 643.3 106.8 650.0 107.2 C656.7 107.6 663.3 108.0 670.0 108.4 C676.7 108.8 681.7 109.0 690.0 109.4 C698.3 109.8 708.3 110.3 720.0 110.6 C731.7 110.9 746.7 111.0 760.0 111.1 C773.3 111.2 793.3 111.2 800.0 111.2" fill="none" stroke="#c44e52" stroke-width="3" stroke-linecap="butt"/>
<path d="M200.0 111.2 C203.3 111.1 213.3 111.0 220.0 110.8 C226.7 110.6 233.3 110.3 240.0 109.8 C246.7 109.3 253.3 109.2 260.0 107.7 C266.7 106.2 273.3 103.8 280.0 101.0 C286.7 98.2 293.3 94.8 300.0 90.6 C306.7 86.4 313.3 81.2 320.0 76.0 C326.7 70.8 335.0 64.0 340.0 59.6 C345.0 55.1 346.7 52.3 350.0 49.3 C353.3 46.3 356.7 43.7 360.0 41.4 C363.3 39.1 366.7 36.8 370.0 35.3 C373.3 33.8 376.7 33.2 380.0 32.6 C383.3 32.0 386.7 32.1 390.0 31.9 C393.3 31.7 396.7 31.6 400.0 31.4 C403.3 31.1 406.7 30.7 410.0 30.4 C413.3 30.1 416.7 29.7 420.0 29.8 C423.3 29.9 426.7 30.4 430.0 31.0 C433.3 31.6 436.7 32.7 440.0 33.5 C443.3 34.3 446.7 35.1 450.0 35.6 C453.3 36.1 456.7 36.3 460.0 36.7 C463.3 37.1 466.7 37.3 470.0 38.1 C473.3 38.9 476.7 39.9 480.0 41.5 C483.3 43.1 486.7 45.2 490.0 47.9 C493.3 50.5 496.7 53.7 500.0 57.4 C503.3 61.1 506.7 65.9 510.0 70.1 C513.3 74.3 516.7 79.0 520.0 82.7 C523.3 86.4 526.7 89.3 530.0 92.1 C533.3 94.9 536.7 97.5 540.0 99.6 C543.3 101.7 546.7 103.4 550.0 104.6 C553.3 105.8 555.0 106.2 560.0 106.8 C565.0 107.4 573.3 107.7 580.0 108.0 C586.7 108.3 593.3 108.6 600.0 108.9 C606.7 109.2 613.3 109.4 620.0 109.7 C626.7 110.0 630.0 110.3 640.0 110.5 C650.0 110.7 666.7 110.9 680.0 111.0 C693.3 111.1 713.3 111.2 720.0 111.2" fill="none" stroke="#55a868" stroke-width="3" stroke-linecap="butt"/>
<path d="M290.0 111.2 C296.7 111.0 320.0 110.7 330.0 110.3 C340.0 109.9 343.3 109.6 350.0 108.9 C356.7 108.2 363.3 107.6 370.0 106.4 C376.7 105.2 383.3 103.9 390.0 101.6 C396.7 99.3 405.0 95.2 410.0 92.5 C415.0 89.8 416.7 87.9 420.0 85.2 C423.3 82.5 426.7 79.6 430.0 76.6 C433.3 73.6 436.7 69.9 440.0 67.0 C443.3 64.1 446.7 61.1 450.0 59.0 C453.3 56.9 455.0 56.3 460.0 54.3 C465.0 52.3 473.3 48.9 480.0 46.9 C486.7 44.9 493.3 43.8 500.0 42.1 C506.7 40.4 515.0 38.2 520.0 36.9 C525.0 35.5 526.7 34.8 530.0 34.0 C533.3 33.2 536.7 32.5 540.0 32.0 C543.3 31.5 546.8 30.9 550.0 30.8 C553.2 30.7 555.4 30.7 559.0 31.4 C562.6 32.1 567.4 33.5 571.6 35.2 C575.8 36.9 580.1 38.8 584.3 41.5 C588.5 44.2 592.8 48.0 597.0 51.6 C601.2 55.2 605.8 59.3 609.6 63.0 C613.4 66.7 616.6 70.5 620.0 74.0 C623.4 77.5 626.7 81.1 630.0 84.0 C633.3 86.9 635.0 89.0 640.0 91.5 C645.0 94.0 653.3 97.4 660.0 99.2 C666.7 101.0 673.3 101.8 680.0 102.6 C686.7 103.4 693.3 103.7 700.0 104.3 C706.7 104.9 710.0 105.6 720.0 106.3 C730.0 107.0 746.7 107.9 760.0 108.5 C773.3 109.1 790.8 109.7 800.0 110.0 C809.2 110.3 812.9 110.4 815.5 110.5" fill="none" stroke="#4c72b0" stroke-width="3" stroke-linecap="butt"/>
<path d="M400.0 110.2 C403.3 110.1 413.3 109.8 420.0 109.5 C426.7 109.2 433.3 109.5 440.0 108.2 C446.7 106.9 453.3 104.2 460.0 101.7 C466.7 99.2 473.3 96.3 480.0 93.3 C486.7 90.3 493.3 87.0 500.0 83.8 C506.7 80.6 513.3 77.5 520.0 74.3 C526.7 71.0 534.5 67.0 540.0 64.3 C545.5 61.6 548.5 60.3 552.7 58.0 C556.9 55.7 561.1 52.8 565.3 50.4 C569.5 48.0 573.8 45.5 578.0 43.4 C582.2 41.3 586.4 39.0 590.6 37.7 C594.8 36.4 599.9 36.2 603.3 35.8 C606.7 35.4 607.7 35.2 610.9 35.4 C614.1 35.6 618.3 36.2 622.3 37.1 C626.3 38.0 630.7 39.4 634.9 40.9 C639.1 42.4 643.4 44.2 647.6 45.9 C651.8 47.6 655.4 49.1 660.0 51.0 C664.6 52.9 670.0 55.5 675.0 57.5 C680.0 59.5 684.2 60.9 690.0 63.3 C695.8 65.7 703.3 68.8 710.0 71.7 C716.7 74.6 723.3 77.9 730.0 80.7 C736.7 83.5 743.3 86.1 750.0 88.6 C756.7 91.0 763.3 93.3 770.0 95.4 C776.7 97.5 782.4 99.5 790.0 101.3 C797.6 103.1 811.2 105.5 815.5 106.3" fill="none" stroke="#ffa500" stroke-width="3" stroke-linecap="butt"/>
</g>
<g clip-path="url(#cr)">
<rect x="837.6" y="691.8" width="15.1" height="11.7" fill="#c44e52" fill-opacity="0.4" stroke="#fff" stroke-width="1.5"/>
<rect x="837.6" y="703.5" width="21.3" height="12.0" fill="#c44e52" fill-opacity="0.4" stroke="#fff" stroke-width="1.5"/>
<rect x="837.6" y="715.5" width="30.4" height="11.7" fill="#c44e52" fill-opacity="0.4" stroke="#fff" stroke-width="1.5"/>
<rect x="837.6" y="727.2" width="51.5" height="11.8" fill="#c44e52" fill-opacity="0.4" stroke="#fff" stroke-width="1.5"/>
<rect x="837.6" y="739.0" width="54.6" height="11.9" fill="#c44e52" fill-opacity="0.4" stroke="#fff" stroke-width="1.5"/>
<rect x="837.6" y="750.9" width="94.5" height="11.8" fill="#c44e52" fill-opacity="0.4" stroke="#fff" stroke-width="1.5"/>
<rect x="837.6" y="762.7" width="109.4" height="11.9" fill="#c44e52" fill-opacity="0.4" stroke="#fff" stroke-width="1.5"/>
<rect x="837.6" y="774.6" width="69.8" height="11.7" fill="#c44e52" fill-opacity="0.4" stroke="#fff" stroke-width="1.5"/>
<rect x="837.6" y="786.3" width="8.8" height="11.9" fill="#c44e52" fill-opacity="0.4" stroke="#fff" stroke-width="1.5"/>
<rect x="837.6" y="432.1" width="4.4" height="28.9" fill="#55a868" fill-opacity="0.4" stroke="#fff" stroke-width="1.5"/>
<rect x="837.6" y="461.0" width="11.7" height="28.9" fill="#55a868" fill-opacity="0.4" stroke="#fff" stroke-width="1.5"/>
<rect x="837.6" y="489.9" width="18.4" height="28.9" fill="#55a868" fill-opacity="0.4" stroke="#fff" stroke-width="1.5"/>
<rect x="837.6" y="518.8" width="25.4" height="28.9" fill="#55a868" fill-opacity="0.4" stroke="#fff" stroke-width="1.5"/>
<rect x="837.6" y="547.7" width="33.7" height="28.9" fill="#55a868" fill-opacity="0.4" stroke="#fff" stroke-width="1.5"/>
<rect x="837.6" y="576.6" width="39.9" height="28.9" fill="#55a868" fill-opacity="0.4" stroke="#fff" stroke-width="1.5"/>
<rect x="837.6" y="605.5" width="29.8" height="28.9" fill="#55a868" fill-opacity="0.4" stroke="#fff" stroke-width="1.5"/>
<rect x="837.6" y="634.4" width="22.7" height="28.9" fill="#55a868" fill-opacity="0.4" stroke="#fff" stroke-width="1.5"/>
<rect x="837.6" y="663.3" width="8.2" height="28.9" fill="#55a868" fill-opacity="0.4" stroke="#fff" stroke-width="1.5"/>
<rect x="837.6" y="340.0" width="8.2" height="32.5" fill="#4c72b0" fill-opacity="0.4" stroke="#fff" stroke-width="1.5"/>
<rect x="837.6" y="372.5" width="17.2" height="32.5" fill="#4c72b0" fill-opacity="0.4" stroke="#fff" stroke-width="1.5"/>
<rect x="837.6" y="405.0" width="38.5" height="32.4" fill="#4c72b0" fill-opacity="0.4" stroke="#fff" stroke-width="1.5"/>
<rect x="837.6" y="437.4" width="25.1" height="32.3" fill="#4c72b0" fill-opacity="0.4" stroke="#fff" stroke-width="1.5"/>
<rect x="837.6" y="469.7" width="35.3" height="32.3" fill="#4c72b0" fill-opacity="0.4" stroke="#fff" stroke-width="1.5"/>
<rect x="837.6" y="502.0" width="22.0" height="32.3" fill="#4c72b0" fill-opacity="0.4" stroke="#fff" stroke-width="1.5"/>
<rect x="837.6" y="534.3" width="16.4" height="32.3" fill="#4c72b0" fill-opacity="0.4" stroke="#fff" stroke-width="1.5"/>
<rect x="837.6" y="566.6" width="4.8" height="32.3" fill="#4c72b0" fill-opacity="0.4" stroke="#fff" stroke-width="1.5"/>
<rect x="837.6" y="198.7" width="14.4" height="41.8" fill="#ffa500" fill-opacity="0.4" stroke="#fff" stroke-width="1.5"/>
<rect x="837.6" y="240.5" width="19.9" height="41.9" fill="#ffa500" fill-opacity="0.4" stroke="#fff" stroke-width="1.5"/>
<rect x="837.6" y="282.4" width="25.7" height="41.9" fill="#ffa500" fill-opacity="0.4" stroke="#fff" stroke-width="1.5"/>
<rect x="837.6" y="324.3" width="39.9" height="41.9" fill="#ffa500" fill-opacity="0.4" stroke="#fff" stroke-width="1.5"/>
<rect x="837.6" y="366.2" width="28.4" height="41.9" fill="#ffa500" fill-opacity="0.4" stroke="#fff" stroke-width="1.5"/>
<path d="M840.0 600.0 C840.0 606.7 840.2 628.3 840.2 640.0 C840.2 651.7 840.2 663.3 840.3 670.0 C840.4 676.7 840.2 676.7 841.0 680.0 C841.8 683.3 843.1 686.7 845.1 690.0 C847.1 693.3 850.1 696.7 852.7 700.0 C855.4 703.3 858.4 706.7 861.0 710.0 C863.6 713.3 865.1 716.3 868.6 720.0 C872.1 723.7 877.1 728.9 882.3 732.4 C887.5 735.9 893.9 738.3 899.7 741.2 C905.5 744.1 912.1 747.2 917.1 749.9 C922.1 752.6 927.0 754.9 929.6 757.3 C932.2 759.7 932.7 762.1 932.7 764.2 C932.7 766.3 931.8 768.2 929.6 769.8 C927.4 771.3 923.3 772.0 919.6 773.5 C915.9 775.0 913.8 776.2 907.2 778.5 C900.6 780.8 888.5 784.3 879.8 787.2 C871.1 790.1 860.7 793.4 854.9 795.9 C849.1 798.4 847.3 799.8 844.9 802.1 C842.5 804.4 841.4 807.0 840.6 809.6 C839.8 812.2 840.2 815.6 840.1 818.0 C840.0 820.4 840.0 823.0 840.0 824.0" fill="none" stroke="#c44e52" stroke-width="3"/>
<path d="M840.0 400.0 C840.1 403.3 840.1 411.7 840.5 420.0 C840.9 428.3 841.4 441.7 842.4 450.0 C843.4 458.3 844.9 463.3 846.5 470.0 C848.1 476.7 850.0 483.3 852.0 490.0 C854.0 496.7 856.0 503.3 858.2 510.0 C860.4 516.7 863.0 523.3 865.1 530.0 C867.2 536.7 869.2 543.3 870.6 550.0 C872.0 556.7 872.5 563.3 873.3 570.0 C874.1 576.7 875.2 585.0 875.4 590.0 C875.6 595.0 875.3 595.8 874.7 600.0 C874.1 604.2 872.9 610.0 872.0 615.0 C871.1 620.0 870.7 624.2 869.2 630.0 C867.7 635.8 865.3 643.3 863.0 650.0 C860.7 656.7 858.0 663.3 855.4 670.0 C852.8 676.7 849.1 685.0 847.2 690.0 C845.3 695.0 844.8 696.7 843.8 700.0 C842.8 703.3 841.6 705.8 841.0 710.0 C840.4 714.2 840.4 720.0 840.2 725.0 C840.0 730.0 840.0 737.5 840.0 740.0" fill="none" stroke="#55a868" stroke-width="3"/>
<path d="M840.0 300.0 C840.0 303.0 840.1 312.5 840.3 318.0 C840.5 323.5 840.1 327.7 841.0 333.0 C841.9 338.3 843.7 343.8 845.8 350.0 C847.9 356.2 851.1 363.3 853.4 370.0 C855.7 376.7 857.3 383.3 859.6 390.0 C861.9 396.7 865.2 403.3 867.1 410.0 C869.0 416.7 870.6 423.3 871.3 430.0 C872.0 436.7 871.5 443.3 871.3 450.0 C871.1 456.7 870.5 463.3 869.9 470.0 C869.3 476.7 868.4 483.3 867.5 490.0 C866.6 496.7 865.3 505.0 864.4 510.0 C863.5 515.0 863.2 515.0 861.9 520.0 C860.6 525.0 858.7 533.3 856.8 540.0 C854.9 546.7 852.8 553.3 850.6 560.0 C848.4 566.7 845.4 573.3 843.8 580.0 C842.2 586.7 841.6 593.3 841.0 600.0 C840.4 606.7 840.4 611.7 840.2 620.0 C840.0 628.3 840.0 645.0 840.0 650.0" fill="none" stroke="#4c72b0" stroke-width="3"/>
<path d="M840.3 136.5 C840.4 140.4 840.4 152.8 840.7 160.0 C841.1 167.2 841.5 173.3 842.4 180.0 C843.2 186.7 844.5 193.3 845.8 200.0 C847.1 206.7 848.9 213.3 850.4 220.0 C851.9 226.7 853.4 233.3 854.8 240.0 C856.2 246.7 857.8 254.2 858.9 260.0 C860.0 265.8 860.6 270.0 861.5 275.0 C862.4 280.0 863.0 284.2 864.4 290.0 C865.8 295.8 868.2 303.3 869.9 310.0 C871.6 316.7 873.6 324.2 874.7 330.0 C875.8 335.8 876.6 340.0 876.6 345.0 C876.6 350.0 875.3 355.8 874.5 360.0 C873.7 364.2 874.0 365.0 872.0 370.0 C870.0 375.0 865.5 383.3 862.3 390.0 C859.1 396.7 855.5 403.3 852.7 410.0 C850.0 416.7 847.6 423.3 845.8 430.0 C844.0 436.7 842.6 443.3 841.7 450.0 C840.9 456.7 841.0 463.3 840.7 470.0 C840.5 476.7 840.3 481.7 840.2 490.0 C840.1 498.3 840.0 515.0 840.0 520.0" fill="none" stroke="#ffa500" stroke-width="3"/>
</g>
<path d="M146.1 112.5 H817.0" stroke="#262626" stroke-width="2.7" fill="none"/>
<line x1="147.4" y1="112.5" x2="147.4" y2="126.7" stroke="#262626" stroke-width="2.7"/>
<line x1="281.1" y1="112.5" x2="281.1" y2="126.7" stroke="#262626" stroke-width="2.7"/>
<line x1="414.7" y1="112.5" x2="414.7" y2="126.7" stroke="#262626" stroke-width="2.7"/>
<line x1="548.4" y1="112.5" x2="548.4" y2="126.7" stroke="#262626" stroke-width="2.7"/>
<line x1="682.0" y1="112.5" x2="682.0" y2="126.7" stroke="#262626" stroke-width="2.7"/>
<line x1="815.7" y1="112.5" x2="815.7" y2="126.7" stroke="#262626" stroke-width="2.7"/>
<path d="M839.3 135.1 V825.9" stroke="#262626" stroke-width="2.7" fill="none"/>
<line x1="824.6" y1="824.6" x2="839.3" y2="824.6" stroke="#262626" stroke-width="2.7"/>
<line x1="824.6" y1="709.9" x2="839.3" y2="709.9" stroke="#262626" stroke-width="2.7"/>
<line x1="824.6" y1="595.2" x2="839.3" y2="595.2" stroke="#262626" stroke-width="2.7"/>
<line x1="824.6" y1="480.5" x2="839.3" y2="480.5" stroke="#262626" stroke-width="2.7"/>
<line x1="824.6" y1="365.8" x2="839.3" y2="365.8" stroke="#262626" stroke-width="2.7"/>
<line x1="824.6" y1="251.1" x2="839.3" y2="251.1" stroke="#262626" stroke-width="2.7"/>
<line x1="824.6" y1="136.4" x2="839.3" y2="136.4" stroke="#262626" stroke-width="2.7"/>
<rect x="162" y="151" width="216.4" height="180.6" rx="4" ry="4" fill="#ffffff" fill-opacity="0.8" stroke="#cccccc" stroke-width="1.6"/>
<rect x="174.8" y="165.8" width="56.5" height="17.7" fill="#ffa500"/>
<text x="255.6" y="185.1" class="lg" textLength="109.3" lengthAdjust="spacingAndGlyphs">PDvec3</text>
<rect x="174.8" y="208.8" width="56.5" height="17.7" fill="#0000ff"/>
<text x="255.6" y="228.1" class="lg" textLength="109.3" lengthAdjust="spacingAndGlyphs">PDvec2</text>
<rect x="174.8" y="251.7" width="56.5" height="17.7" fill="#008000"/>
<text x="255.6" y="271.0" class="lg" textLength="109.3" lengthAdjust="spacingAndGlyphs">PDvec1</text>
<rect x="174.8" y="294.7" width="56.5" height="17.7" fill="#ff0000"/>
<text x="255.6" y="314.0" class="lg" textLength="109.3" lengthAdjust="spacingAndGlyphs">Non-PD</text>
</svg></body></html>
